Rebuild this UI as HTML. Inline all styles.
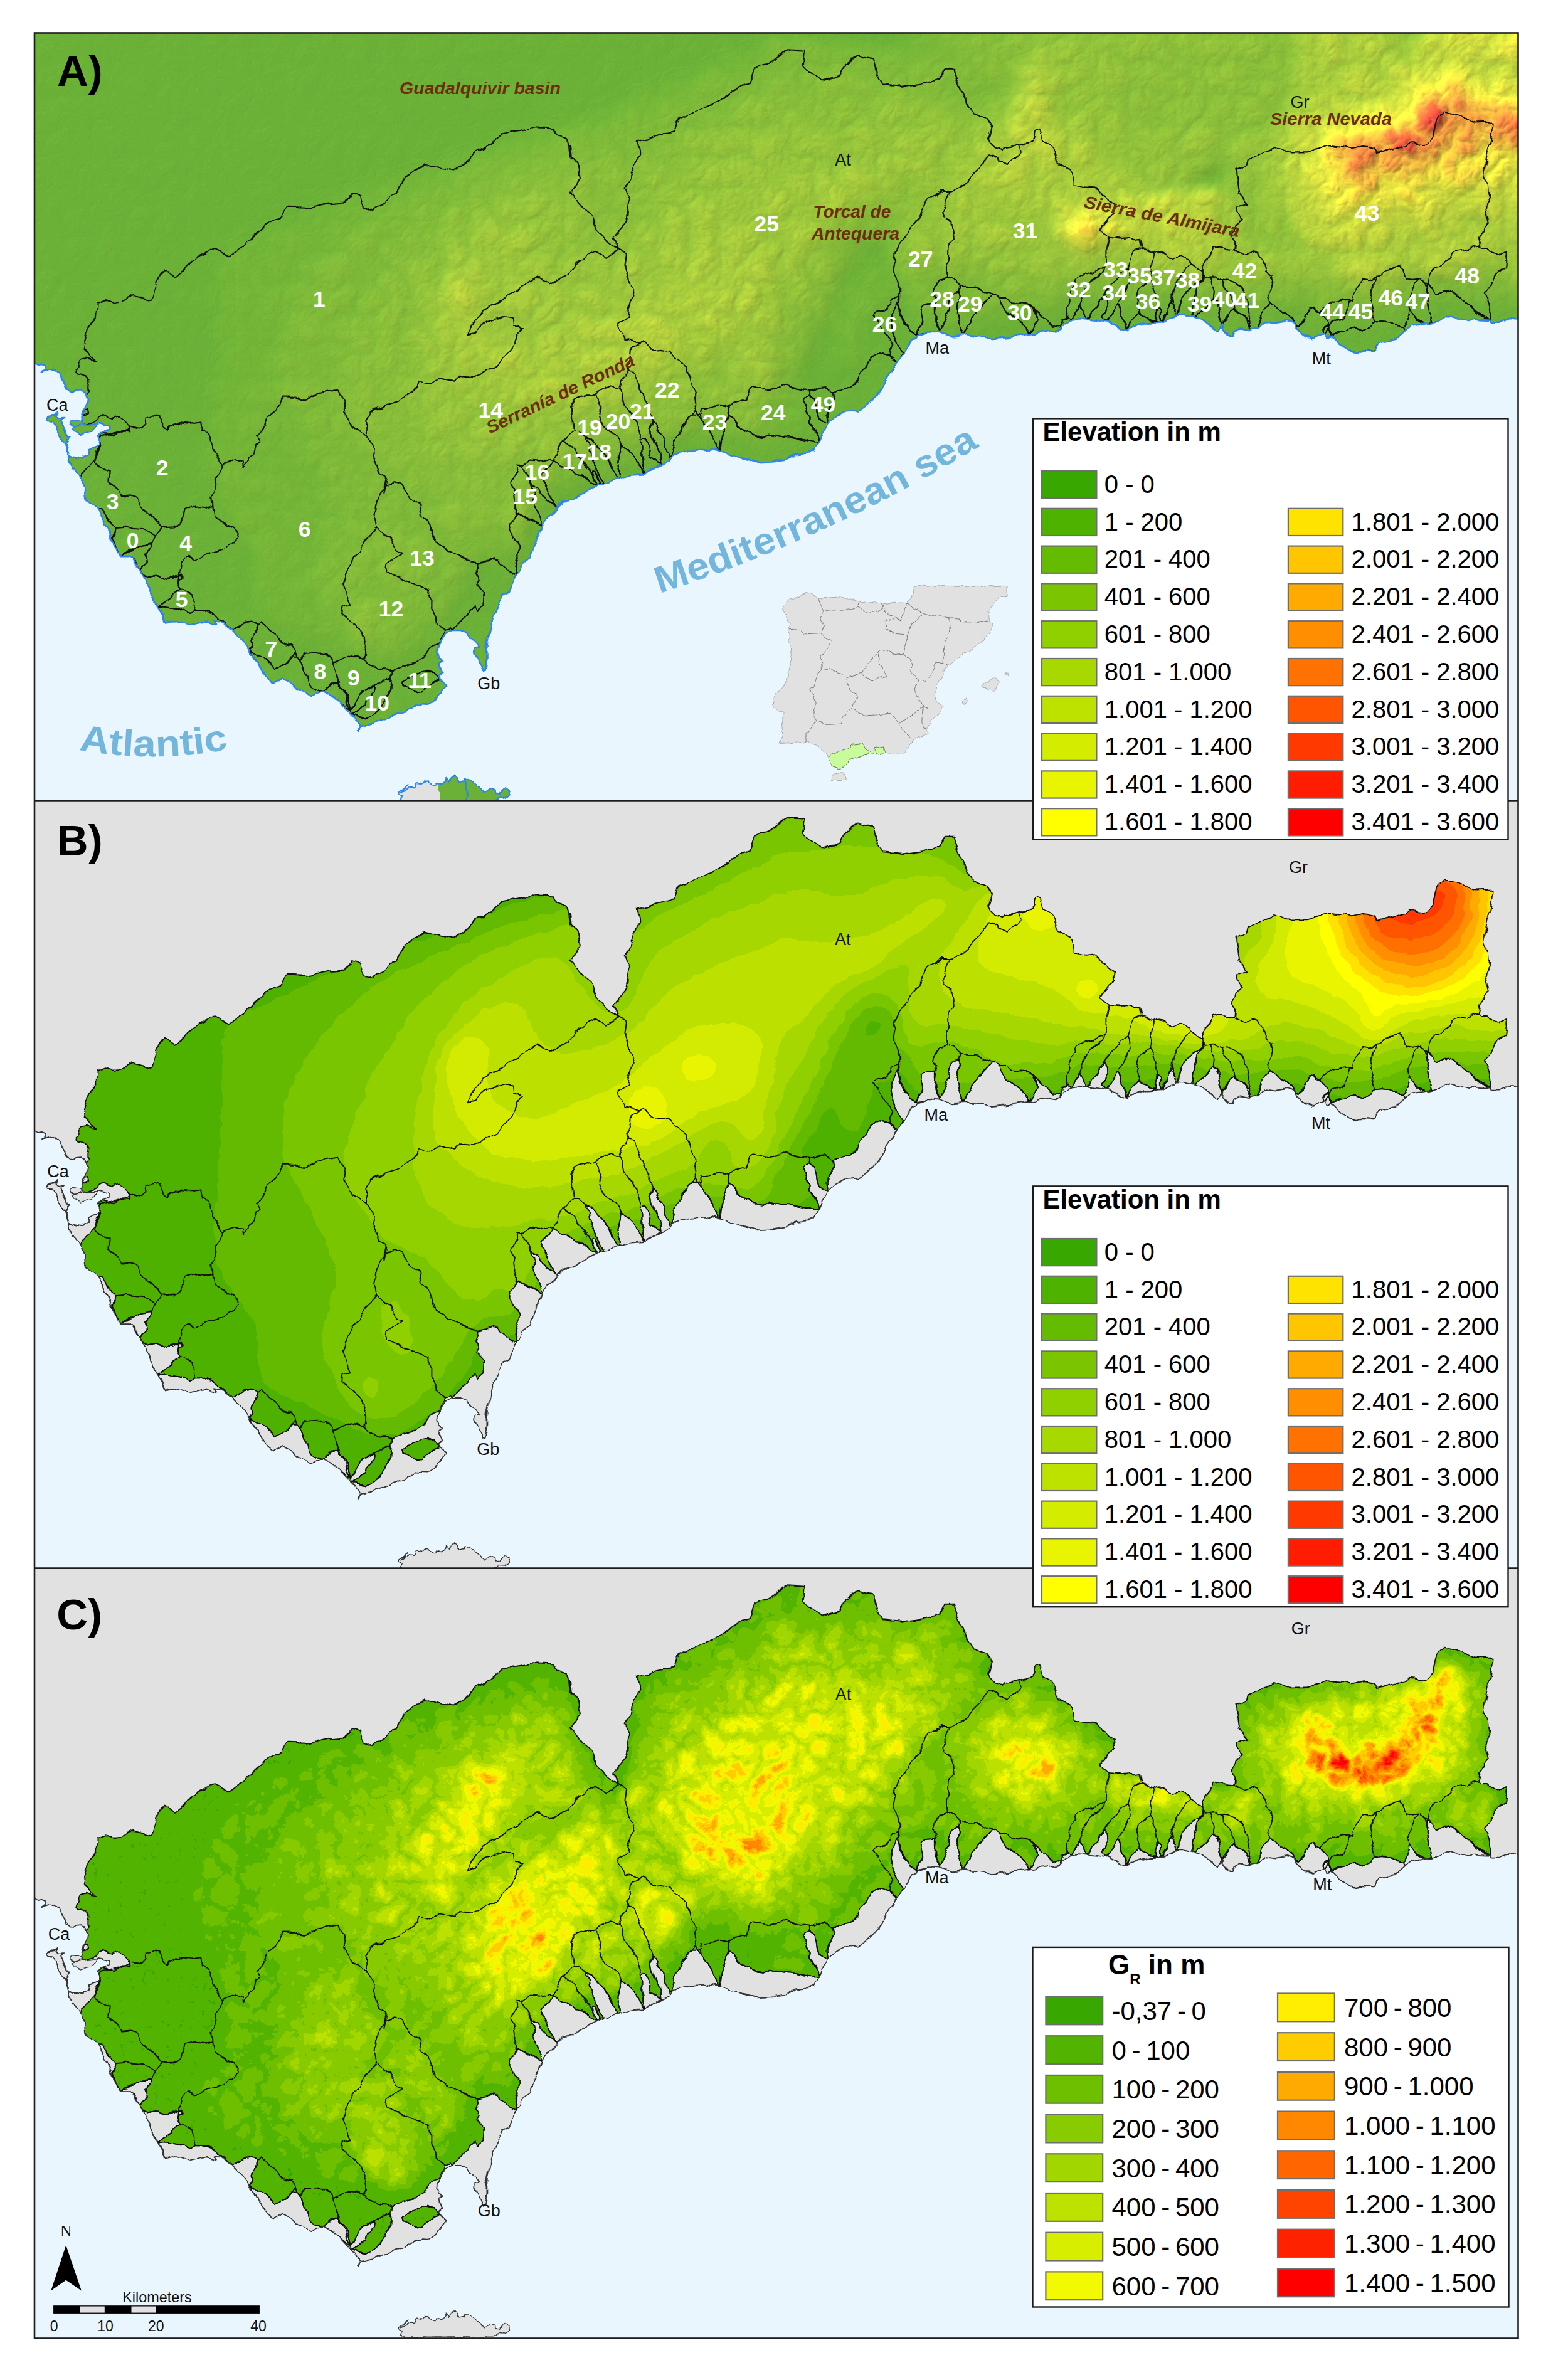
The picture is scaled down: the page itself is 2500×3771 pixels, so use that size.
<!DOCTYPE html>
<html><head><meta charset="utf-8"><title>Elevation maps</title>
<style>
html,body{margin:0;padding:0;background:#fff;}
svg{display:block;}
text{font-family:"Liberation Sans",sans-serif;}
.bl{fill:none;stroke:#111;stroke-width:1.9;stroke-linejoin:round;stroke-linecap:round;}
.num{font-weight:bold;font-size:35.5px;fill:#fff;text-anchor:middle;}
.city{font-size:27px;fill:#111;}
.brn{font-weight:bold;font-style:italic;font-size:28px;fill:#6b2d0c;}
.leg{font-size:40px;fill:#000;}
.sea{font-weight:bold;fill:#74b6db;}
.legt{font-size:42px;font-weight:bold;fill:#000;}
.pl{font-size:69px;font-weight:bold;fill:#000;}
</style></head><body>
<svg width="2500" height="3771" viewBox="0 0 2500 3771">
<defs>
<clipPath id="cpPanel"><rect x="55.0" y="0" width="2365.5" height="1228.0"/></clipPath>
<clipPath id="cpOuter"><path d="M136.7,576.8 138.0,574.9 141.8,571.1 139.3,567.3 139.3,559.6 140.6,552.6 136.7,548.1 129.1,545.0 123.3,544.3 120.2,541.1 121.4,536.7 126.5,531.6 127.8,525.2 131.6,522.0 139.3,520.1 148.2,523.9 151.4,522.6 146.9,520.7 141.8,513.7 136.7,508.6 131.6,503.5 133.7,498.6 140.3,468.0 153.1,455.2 154.6,429.7 168.4,424.6 181.1,428.2 193.9,427.2 214.3,419.5 242.3,426.2 250.0,396.6 264.3,378.7 275.5,387.4 295.9,376.2 306.1,361.9 341.8,345.5 364.8,356.8 390.3,340.4 403.1,325.1 428.6,302.2 449.0,294.5 459.2,278.2 489.8,279.2 525.5,271.6 551.0,270.0 560.2,256.3 574.0,261.4 579.1,276.7 594.4,283.3 612.2,271.6 619.9,258.8 632.7,256.3 642.9,233.3 676.0,207.8 704.1,215.4 724.5,219.0 750.0,197.6 775.5,182.3 800.0,160.8 825.5,155.7 848.5,151.7 881.6,152.7 889.3,164.4 907.1,169.5 909.7,197.6 922.4,212.9 925.0,230.7 909.7,253.7 925.0,271.6 940.3,289.4 950.5,314.9 968.4,332.8 986.2,346.6 976.0,325.1 999.0,299.6 1004.1,263.9 996.4,248.6 1009.2,223.1 1019.4,195.0 1016.8,172.1 1042.3,164.4 1075.5,157.8 1083.2,136.4 1113.8,123.6 1146.9,109.8 1167.3,90.4 1195.4,80.2 1203.1,54.7 1223.5,49.6 1256.6,26.7 1282.1,28.2 1279.6,54.7 1310.2,75.1 1340.8,67.5 1348.5,49.6 1366.3,36.9 1391.8,42.0 1399.5,70.0 1407.1,82.8 1437.8,85.3 1473.5,80.2 1499.0,75.1 1506.6,57.3 1519.4,57.3 1527.0,80.2 1534.7,100.6 1552.6,128.7 1563.3,134.1 1573.5,136.7 1581.1,149.4 1576.0,167.3 1578.6,174.9 1588.8,185.1 1599.0,187.7 1601.5,182.6 1619.4,178.8 1624.5,177.5 1642.3,173.7 1648.7,167.3 1650.0,157.1 1655.1,154.5 1660.2,158.3 1662.8,171.1 1674.2,177.5 1680.6,185.1 1683.2,196.6 1685.7,208.1 1695.9,213.2 1706.1,218.3 1712.5,231.1 1712.5,242.5 1731.6,246.4 1741.8,245.1 1749.5,248.9 1754.6,256.6 1762.2,259.1 1767.3,266.8 1775.0,273.1 1776.3,287.2 1768.6,292.3 1762.2,302.5 1752.0,315.2 1769.9,325.4 1786.1,326.9 1798.9,325.6 1809.1,330.7 1819.3,329.4 1821.8,342.2 1841.0,349.3 1849.9,352.4 1860.1,358.8 1870.3,360.0 1880.0,357.5 1883.6,356.2 1893.8,360.0 1901.4,370.2 1915.5,380.4 1918.0,372.8 1926.9,362.6 1932.0,349.8 1934.6,343.4 1943.5,340.9 1955.0,343.4 1969.0,344.7 1970.3,334.5 1965.2,326.9 1971.6,309.0 1976.7,296.3 1972.9,283.5 1974.0,276.7 1986.7,271.6 1976.5,258.8 1971.4,218.0 1989.3,210.3 1991.8,200.1 2017.3,187.4 2030.1,182.3 2053.1,189.9 2083.7,189.9 2119.4,179.7 2155.1,184.8 2175.5,179.7 2190.8,182.3 2195.9,192.5 2226.5,184.8 2246.9,177.2 2269.9,179.7 2285.2,161.9 2290.3,138.9 2303.1,125.1 2323.5,128.7 2349.0,144.0 2379.6,143.0 2377.0,172.1 2369.4,207.8 2366.6,221.4 2370.4,236.7 2371.7,254.5 2375.5,269.8 2374.2,280.0 2369.1,287.7 2371.7,300.4 2365.3,313.2 2360.2,325.9 2356.4,340.0 2360.2,342.5 2373.0,342.5 2380.6,347.6 2388.3,355.3 2402.3,347.6 2401.0,356.6 2402.3,364.2 2401.0,374.4 2388.3,382.1 2383.2,392.3 2375.5,405.0 2367.9,415.2 2373.0,433.1 2375.5,445.8 2374.2,457.3 2376.0,1235.0 50.0,1235.0 50.0,580.0 131.6,580.0Z"/><path d="M641.2,1034.1 650.1,1026.5 661.6,1023.9 673.1,1017.5 683.3,1016.3 690.9,1020.1 696.0,1029.0 697.3,1032.8 685.8,1036.7 678.2,1044.3 673.1,1050.7 665.4,1050.7 655.2,1044.3 642.4,1040.5Z"/></clipPath>
<path id="sea" d="M48.7,527.1 55.1,527.1 59.6,529.6 66.6,528.4 73.0,530.9 73.0,536.0 67.9,539.2 81.9,534.8 88.3,537.9 94.0,544.3 99.1,552.0 102.9,559.6 106.8,567.3 111.2,571.1 116.3,571.1 121.4,567.3 129.1,566.6 133.5,569.8 136.7,577.5 138.0,585.1 136.7,592.8 134.2,600.4 131.6,608.1 129.7,615.7 129.1,620.2 132.9,624.7 155.9,622.1 173.1,625.9 173.1,633.6 161.0,641.3 155.9,643.2 159.7,647.6 158.4,655.9 154.6,657.8 143.1,662.9 141.8,670.6 131.6,674.4 130.4,677.6 116.3,675.1 109.9,671.9 103.6,655.9 106.1,652.7 108.0,647.6 111.2,643.8 108.7,643.8 106.8,637.4 102.3,631.1 98.5,622.1 97.2,617.0 101.0,612.6 93.4,613.2 89.5,609.4 92.1,604.3 87.0,607.5 77.4,608.7 74.9,611.9 75.5,616.4 83.2,617.0 92.1,633.6 102.3,655.3 109.9,673.1 111.2,682.1 115.1,694.8 116.3,692.3 121.4,697.4 126.5,703.5 134.2,725.4 136.7,742.0 157.1,758.6 164.8,773.9 172.4,791.8 180.1,809.6 185.2,824.9 190.3,832.6 203.1,832.6 210.2,836.0 224.2,855.1 230.6,867.9 240.8,893.4 251.0,916.4 263.8,938.0 274.0,935.5 304.6,944.4 327.6,938.0 342.9,941.9 341.6,936.8 350.5,938.0 368.4,952.1 383.7,967.4 396.4,982.7 411.7,1008.2 424.5,1026.1 437.2,1037.5 448.7,1028.6 457.7,1033.7 475.5,1046.5 498.5,1056.7 515.1,1050.3 531.6,1059.2 544.4,1069.4 557.1,1083.4 567.3,1093.7 573.7,1105.1 571.2,1112.8 572.3,1113.2 573.6,1105.5 596.5,1101.7 619.5,1092.8 642.4,1082.6 660.3,1069.8 683.3,1071.1 698.6,1059.6 708.8,1045.6 710.1,1040.5 698.6,1032.8 697.3,1027.7 706.2,1018.8 698.6,1006.1 706.2,1002.2 699.8,998.4 697.3,988.2 698.6,975.4 703.7,965.2 710.1,957.6 721.5,952.5 734.3,952.5 744.5,956.3 747.0,964.0 757.2,967.8 766.2,976.7 758.5,980.5 757.2,988.2 761.1,998.4 768.7,1017.5 772.6,1016.3 776.4,998.4 776.4,978.0 778.9,962.7 785.3,932.1 794.2,909.1 801.9,897.6 809.5,892.5 818.5,873.4 829.9,851.7 846.5,835.1 851.6,817.3 861.8,796.9 864.9,785.4 874.2,772.6 888.2,756.0 899.7,747.1 912.4,744.5 927.8,734.3 950.7,725.4 960.9,719.0 973.7,713.9 989.0,711.4 1006.8,705.0 1027.2,703.7 1042.6,693.5 1052.8,687.1 1068.1,682.0 1071.9,675.6 1083.4,669.3 1101.2,665.4 1126.7,664.2 1147.1,668.0 1175.9,676.0 1209.1,684.9 1232.0,683.7 1255.0,681.1 1269.0,669.6 1297.1,667.1 1306.0,651.8 1318.8,623.7 1331.5,612.2 1351.9,603.3 1369.8,602.0 1390.2,588.0 1400.4,575.2 1413.2,552.3 1428.5,529.3 1436.1,520.4 1446.3,501.3 1454.0,488.5 1461.6,485.9 1464.2,480.8 1479.5,475.7 1497.3,477.0 1518.3,483.8 1534.8,482.5 1556.5,483.8 1582.0,487.6 1612.7,485.0 1643.3,481.2 1668.8,477.4 1689.2,473.6 1696.8,464.6 1707.0,457.0 1717.2,455.7 1730.0,457.0 1747.9,458.2 1765.7,460.8 1778.5,465.9 1797.6,473.6 1811.6,468.4 1829.5,462.1 1849.9,460.8 1853.0,460.8 1868.3,451.9 1886.1,450.6 1904.0,454.4 1916.7,458.2 1926.9,464.6 1939.7,473.6 1948.6,464.6 1955.0,472.3 1960.1,482.5 1963.9,482.5 1967.8,473.6 1978.0,471.0 1995.8,473.6 2006.0,469.7 2016.2,459.5 2034.1,462.1 2054.5,459.5 2063.4,464.6 2074.9,478.7 2091.5,487.6 2106.8,481.2 2111.9,478.7 2114.4,485.0 2120.8,481.2 2131.0,491.4 2142.5,501.6 2156.5,508.0 2171.8,506.7 2189.7,508.0 2202.0,494.3 2230.1,486.7 2240.3,477.7 2250.5,467.5 2273.5,463.7 2293.9,458.6 2313.0,452.2 2329.6,456.1 2342.3,459.9 2351.3,456.1 2374.2,457.3 2376.8,461.2 2390.8,461.2 2401.0,456.6 2429.1,456.6 2440.0,1240.0 40.0,1240.0Z"/>
<path id="outerline" d="M136.7,576.8 138.0,574.9 141.8,571.1 139.3,567.3 139.3,559.6 140.6,552.6 136.7,548.1 129.1,545.0 123.3,544.3 120.2,541.1 121.4,536.7 126.5,531.6 127.8,525.2 131.6,522.0 139.3,520.1 148.2,523.9 151.4,522.6 146.9,520.7 141.8,513.7 136.7,508.6 131.6,503.5 133.7,498.6 140.3,468.0 153.1,455.2 154.6,429.7 168.4,424.6 181.1,428.2 193.9,427.2 214.3,419.5 242.3,426.2 250.0,396.6 264.3,378.7 275.5,387.4 295.9,376.2 306.1,361.9 341.8,345.5 364.8,356.8 390.3,340.4 403.1,325.1 428.6,302.2 449.0,294.5 459.2,278.2 489.8,279.2 525.5,271.6 551.0,270.0 560.2,256.3 574.0,261.4 579.1,276.7 594.4,283.3 612.2,271.6 619.9,258.8 632.7,256.3 642.9,233.3 676.0,207.8 704.1,215.4 724.5,219.0 750.0,197.6 775.5,182.3 800.0,160.8 825.5,155.7 848.5,151.7 881.6,152.7 889.3,164.4 907.1,169.5 909.7,197.6 922.4,212.9 925.0,230.7 909.7,253.7 925.0,271.6 940.3,289.4 950.5,314.9 968.4,332.8 986.2,346.6 976.0,325.1 999.0,299.6 1004.1,263.9 996.4,248.6 1009.2,223.1 1019.4,195.0 1016.8,172.1 1042.3,164.4 1075.5,157.8 1083.2,136.4 1113.8,123.6 1146.9,109.8 1167.3,90.4 1195.4,80.2 1203.1,54.7 1223.5,49.6 1256.6,26.7 1282.1,28.2 1279.6,54.7 1310.2,75.1 1340.8,67.5 1348.5,49.6 1366.3,36.9 1391.8,42.0 1399.5,70.0 1407.1,82.8 1437.8,85.3 1473.5,80.2 1499.0,75.1 1506.6,57.3 1519.4,57.3 1527.0,80.2 1534.7,100.6 1552.6,128.7 1563.3,134.1 1573.5,136.7 1581.1,149.4 1576.0,167.3 1578.6,174.9 1588.8,185.1 1599.0,187.7 1601.5,182.6 1619.4,178.8 1624.5,177.5 1642.3,173.7 1648.7,167.3 1650.0,157.1 1655.1,154.5 1660.2,158.3 1662.8,171.1 1674.2,177.5 1680.6,185.1 1683.2,196.6 1685.7,208.1 1695.9,213.2 1706.1,218.3 1712.5,231.1 1712.5,242.5 1731.6,246.4 1741.8,245.1 1749.5,248.9 1754.6,256.6 1762.2,259.1 1767.3,266.8 1775.0,273.1 1776.3,287.2 1768.6,292.3 1762.2,302.5 1752.0,315.2 1769.9,325.4 1786.1,326.9 1798.9,325.6 1809.1,330.7 1819.3,329.4 1821.8,342.2 1841.0,349.3 1849.9,352.4 1860.1,358.8 1870.3,360.0 1880.0,357.5 1883.6,356.2 1893.8,360.0 1901.4,370.2 1915.5,380.4 1918.0,372.8 1926.9,362.6 1932.0,349.8 1934.6,343.4 1943.5,340.9 1955.0,343.4 1969.0,344.7 1970.3,334.5 1965.2,326.9 1971.6,309.0 1976.7,296.3 1972.9,283.5 1974.0,276.7 1986.7,271.6 1976.5,258.8 1971.4,218.0 1989.3,210.3 1991.8,200.1 2017.3,187.4 2030.1,182.3 2053.1,189.9 2083.7,189.9 2119.4,179.7 2155.1,184.8 2175.5,179.7 2190.8,182.3 2195.9,192.5 2226.5,184.8 2246.9,177.2 2269.9,179.7 2285.2,161.9 2290.3,138.9 2303.1,125.1 2323.5,128.7 2349.0,144.0 2379.6,143.0 2377.0,172.1 2369.4,207.8 2366.6,221.4 2370.4,236.7 2371.7,254.5 2375.5,269.8 2374.2,280.0 2369.1,287.7 2371.7,300.4 2365.3,313.2 2360.2,325.9 2356.4,340.0 2360.2,342.5 2373.0,342.5 2380.6,347.6 2388.3,355.3 2402.3,347.6 2401.0,356.6 2402.3,364.2 2401.0,374.4 2388.3,382.1 2383.2,392.3 2375.5,405.0 2367.9,415.2 2373.0,433.1 2375.5,445.8 2374.2,457.3"/>
<path id="gaps" d="M74.9,611.9 77.4,608.7 87.0,607.5 92.1,604.3 89.5,609.4 93.4,613.2 101.0,612.6 97.2,617.0 98.5,622.1 102.3,631.1 106.8,637.4 108.7,643.8 111.2,643.8 108.0,647.6 106.1,652.7 103.6,655.9 109.9,671.9 116.3,675.1 130.4,677.6 131.6,674.4 141.8,670.6 143.1,662.9 154.6,657.8 158.4,655.9 152.0,673.1 148.2,682.1 141.8,692.3 132.9,699.9 129.1,707.6 124.0,705.0 121.4,697.4 116.3,692.3 115.1,694.8 111.2,682.1 109.9,673.1 102.3,655.3 92.1,633.6 83.2,617.0 75.5,616.4Z M126.5,627.9 131.6,624.7 139.3,623.4 146.9,620.2 155.9,616.4 157.1,611.9 162.2,609.4 171.2,611.9 180.1,615.7 185.2,613.2 190.3,611.9 196.7,617.0 206.9,624.0 205.6,631.1 206.2,634.9 194.1,633.6 187.8,637.4 181.4,641.9 171.2,640.6 166.1,638.7 161.0,641.9 155.9,643.2 152.0,631.1 139.3,631.1 129.1,629.8Z M134.2,601.7 139.3,600.4 141.2,605.5 134.2,608.7 131.6,608.3Z M157.1,758.6 163.5,758.6 175.0,779.0 182.7,790.5 180.1,804.5 185.2,819.8 189.0,832.6 185.2,825.4 180.1,809.6 172.4,791.8 164.8,773.9Z M189.0,832.6 195.4,828.8 213.3,824.9 226.0,816.0 242.6,814.7 237.5,822.4 231.1,832.6 234.9,844.1 226.0,856.8 213.3,838.2 203.1,833.1 190.3,833.1Z M225.5,856.4 228.1,861.5 238.3,867.9 247.2,865.3 263.8,870.4 276.5,870.4 284.2,866.6 289.3,865.3 290.6,869.2 285.5,871.7 284.2,880.6 288.0,885.7 274.0,898.5 251.0,915.1 240.8,893.9 230.6,868.4 224.2,855.6Z M251.0,915.8 268.9,916.4 286.7,918.9 295.7,925.3 302.0,926.6 307.1,918.9 317.3,918.9 342.9,926.6 353.1,938.0 368.4,952.1 350.5,938.8 341.6,937.3 342.9,942.4 327.6,938.6 304.6,944.9 274.0,936.0 263.8,938.6Z M368.4,952.1 373.5,947.0 388.8,940.6 401.5,939.3 410.5,941.9 406.6,957.2 401.5,968.7 402.8,977.6 396.4,983.2 383.7,967.9Z M397.7,982.7 411.7,991.6 423.2,996.7 430.9,1004.4 439.8,1012.0 451.3,1008.2 460.2,1001.8 466.6,994.2 474.2,994.2 478.1,999.3 484.4,1013.3 489.5,1028.6 492.1,1038.8 503.6,1046.5 514.3,1050.8 498.5,1057.2 475.5,1047.0 457.7,1034.2 448.7,1029.1 437.2,1038.0 424.5,1026.6 411.7,1008.7Z M515.1,1050.3 521.4,1046.5 529.1,1038.8 540.6,1033.7 543.1,1043.9 552.0,1054.1 557.1,1072.0 559.2,1078.9 544.4,1069.9 531.6,1059.7Z M558.3,1078.8 564.6,1072.4 571.0,1057.1 578.7,1049.4 586.3,1045.6 596.5,1041.8 597.8,1044.3 596.5,1050.7 591.4,1054.5 588.9,1059.6 583.8,1063.4 582.5,1069.8 571.0,1080.0 563.4,1086.4 562.1,1088.2Z M822.3,863.2 821.0,850.4 829.9,822.4 819.7,810.9 815.9,803.2 813.4,791.8 819.7,775.2 822.3,765.0 836.3,771.9 851.6,779.5 865.4,785.9 862.3,797.4 852.1,817.8 847.0,835.6 830.5,852.2Z M844.1,710.1 849.9,729.2 852.5,747.1 856.3,762.4 864.0,785.3 874.7,773.1 888.7,756.5 871.6,747.1 864.0,736.9 856.3,726.7 848.7,719.0Z M880.6,682.0 892.0,687.1 902.2,693.5 915.0,703.7 929.0,705.0 935.4,711.4 941.8,719.0 952.0,724.1 951.2,725.9 928.3,734.8 913.0,745.0 900.2,747.6 888.7,756.5 878.0,742.0 870.4,726.7 864.0,711.4 865.3,703.7 871.6,694.8Z M945.6,701.2 949.4,699.9 953.3,710.1 956.3,722.1 952.5,724.6 949.4,716.5Z M932.9,643.8 940.5,647.6 953.3,660.3 963.5,670.5 968.6,678.2 973.7,685.8 977.5,696.1 982.6,706.3 988.2,711.9 974.2,714.4 961.4,719.5 955.8,706.3 950.7,694.8 943.1,680.7 938.0,668.0 936.7,655.2Z M991.5,655.2 1001.7,665.4 1014.5,678.2 1022.1,694.8 1027.2,704.2 1007.3,705.5 990.8,710.6 989.0,698.6 985.2,685.8 987.7,673.1 990.3,660.3Z M1023.4,660.3 1022.1,651.4 1026.0,647.6 1031.1,647.6 1034.9,655.2 1037.4,665.4 1034.9,675.6 1045.1,680.7 1052.0,686.4 1043.1,694.0 1027.8,704.2 1026.0,688.4 1023.4,673.1Z M1042.6,617.0 1045.1,622.1 1050.2,634.8 1057.9,647.6 1060.4,660.3 1066.8,675.6 1068.6,682.5 1053.3,687.6 1051.5,685.8 1050.2,670.5 1045.1,657.8 1041.3,645.0 1038.7,632.3 1041.3,627.2Z M1071.9,675.6 1075.7,660.3 1080.8,645.0 1085.9,632.3 1092.3,619.5 1102.5,609.3 1112.7,609.3 1119.1,617.0 1126.7,627.2 1133.1,637.4 1139.5,652.7 1145.1,667.2 1126.7,664.7 1101.2,665.9 1083.4,669.8Z M1163.2,608.4 1170.8,616.1 1175.9,623.7 1181.0,631.4 1196.3,637.7 1206.5,644.1 1216.7,645.4 1226.9,640.3 1249.9,644.1 1262.7,645.4 1278.0,647.9 1295.8,651.8 1306.0,651.8 1297.6,667.6 1269.5,670.1 1255.5,681.6 1232.0,684.2 1209.1,685.4 1175.9,676.5 1147.9,668.9 1150.4,649.2 1153.0,633.9 1158.1,618.6Z M1290.7,577.8 1299.6,584.2 1303.5,593.1 1304.7,603.3 1307.3,613.5 1313.7,621.2 1319.3,624.2 1306.5,652.3 1303.5,641.6 1295.8,628.8 1289.4,621.2 1290.7,613.5 1285.6,600.7 1280.5,589.3 1283.1,582.9Z M1329.0,574.0 1336.6,568.9 1354.5,566.3 1367.2,554.8 1372.3,542.1 1380.0,534.4 1385.1,521.7 1390.2,512.7 1400.4,511.5 1414.4,514.0 1420.8,515.3 1425.9,521.7 1431.0,526.8 1436.6,520.9 1429.0,529.8 1413.7,552.8 1400.9,575.7 1390.7,588.5 1370.3,602.5 1352.4,603.8 1332.0,612.7 1319.3,624.2 1317.5,610.9 1318.8,600.7 1326.4,593.1 1330.3,585.4Z M1432.3,420.9 1433.6,429.8 1428.5,440.0 1423.4,450.2 1420.8,463.0 1423.4,475.7 1427.2,488.5 1432.3,498.7 1438.7,511.5 1436.6,520.9 1446.8,501.8 1454.5,489.0 1462.1,486.5 1464.7,481.4 1459.1,479.6 1451.4,475.7 1443.8,465.5 1436.1,452.8 1433.6,440.0Z M1470.7,437.4 1476.5,432.6 1489.8,431.1 1489.8,442.8 1491.1,460.6 1498.2,473.4 1498.2,477.7 1476.5,476.5 1461.2,480.3 1466.3,470.8 1470.2,460.6 1468.9,447.9Z M1518.3,417.4 1528.5,414.9 1531.0,421.3 1528.5,431.5 1525.9,446.8 1527.2,459.5 1531.0,472.3 1534.8,483.0 1518.3,484.3 1497.9,479.2 1497.9,474.8 1500.4,472.3 1505.5,459.5 1511.9,441.7 1514.4,426.4Z M1580.8,417.4 1574.4,426.4 1566.7,434.0 1556.5,446.8 1548.9,459.5 1541.2,472.3 1534.8,483.0 1556.5,484.3 1582.0,488.1 1612.7,485.5 1643.3,481.7 1638.2,472.3 1630.5,462.1 1617.8,453.1 1607.6,446.8 1599.9,439.1 1593.5,428.9 1592.2,422.5Z M1645.8,437.8 1656.0,446.8 1663.7,454.4 1672.6,459.5 1679.0,465.9 1691.7,467.2 1689.7,474.1 1668.8,477.9 1643.3,481.7 1644.5,474.8 1649.6,467.2 1656.0,458.2 1650.9,446.8Z M1691.7,467.2 1693.0,457.0 1700.7,454.4 1705.8,457.0 1697.3,465.1 1689.7,474.1Z M1722.3,435.3 1718.5,442.9 1709.6,449.3 1707.0,457.5 1717.2,456.2 1730.5,457.5 1727.4,449.3 1723.6,441.7Z M1763.2,416.2 1758.1,421.3 1750.4,428.9 1742.8,441.7 1735.1,451.9 1730.0,457.5 1747.9,458.8 1765.7,461.3 1759.3,453.1 1761.9,441.7 1764.4,431.5Z M1784.8,428.9 1779.7,434.0 1775.9,444.2 1769.5,454.4 1765.7,461.3 1778.5,466.4 1797.6,474.1 1795.1,462.1 1789.9,449.3 1787.4,436.6Z M1815.5,446.8 1809.1,454.4 1801.4,462.1 1797.6,474.1 1811.6,469.0 1829.5,462.6 1842.2,458.8 1834.6,457.0 1824.4,451.9Z M1844.8,434.0 1849.9,441.7 1849.9,461.3 1842.8,460.0 1844.0,446.8Z M1868.3,434.0 1874.6,441.7 1877.2,451.1 1868.3,452.4 1853.0,461.3 1855.0,454.4 1860.1,446.8 1863.2,436.6 1867.0,426.4Z M1914.2,390.6 1910.4,398.3 1904.0,403.4 1896.3,408.5 1887.4,413.6 1883.6,426.4 1881.0,436.6 1879.7,449.3 1886.1,451.1 1900.2,453.7 1902.7,436.6 1906.5,421.3 1911.6,403.4 1915.5,390.6Z M1934.6,423.8 1926.9,431.5 1916.7,441.7 1906.5,451.9 1904.0,454.9 1916.7,458.8 1926.9,465.1 1939.7,474.1 1948.6,465.1 1944.8,454.4 1942.2,441.7 1939.7,428.9Z M1966.5,436.6 1960.1,446.8 1953.7,459.5 1948.6,465.1 1955.0,472.8 1960.1,483.0 1963.9,483.0 1967.8,474.1 1978.0,471.5 1995.8,474.1 1993.3,462.1 1985.6,454.4 1975.4,446.8Z M2025.2,432.7 2018.8,439.1 2012.4,449.3 2006.0,462.1 2003.5,472.3 2006.0,470.2 2016.2,460.0 2034.1,462.6 2054.5,460.0 2063.9,465.1 2059.6,457.0 2051.9,449.3 2041.7,444.2 2034.1,439.1Z M2094.0,435.3 2088.9,439.1 2085.1,446.8 2080.0,459.5 2071.1,467.2 2064.7,465.9 2074.9,479.2 2091.5,488.1 2106.8,481.7 2110.6,480.4 2109.3,473.6 2113.2,467.2 2118.3,464.6 2115.7,457.0 2108.1,449.3 2104.2,444.2 2097.9,441.7Z M2121.7,481.1 2135.7,476.5 2148.5,472.6 2161.2,468.8 2174.0,473.9 2184.2,470.1 2193.1,459.9 2204.6,458.6 2214.8,459.9 2225.0,463.7 2232.7,470.1 2237.8,471.4 2240.8,478.2 2230.1,487.2 2202.0,494.8 2189.3,507.6 2171.4,506.3 2154.8,507.6 2142.1,502.5 2130.6,492.3 2120.4,482.1Z M2110.2,473.9 2114.0,467.5 2120.4,466.3 2120.4,471.4 2121.7,481.1 2114.0,485.9 2110.2,480.8Z M2248.0,438.2 2246.7,448.4 2244.1,458.6 2237.8,471.4 2240.8,478.2 2251.0,468.0 2273.5,464.2 2265.8,461.2 2258.2,453.5 2250.5,443.3Z M2276.0,401.2 2283.7,407.6 2288.8,416.5 2296.4,412.7 2304.1,410.1 2314.3,416.5 2321.9,422.9 2332.1,428.0 2342.3,433.1 2352.6,443.3 2360.2,449.7 2370.4,456.1 2374.2,457.8 2351.3,456.6 2342.3,460.4 2329.6,456.6 2313.0,452.7 2293.9,459.1 2281.1,460.4 2278.6,448.4 2276.0,433.1 2274.7,420.3 2276.0,407.6Z"/>
<path id="gibgap" fill-rule="evenodd" d="M624.6,1018.8 629.7,1013.7 647.6,1008.6 662.9,1003.5 675.6,995.8 683.3,986.9 690.9,975.4 698.6,972.4 701.1,965.2 708.8,956.3 708.8,951.2 716.4,949.9 719.0,947.4 721.5,951.2 731.7,942.3 736.8,934.6 747.0,924.4 758.5,912.9 761.1,920.6 771.3,911.7 772.6,898.9 773.8,893.8 764.9,884.9 761.1,879.8 764.9,873.4 758.5,863.2 762.3,851.7 762.3,845.3 775.1,842.8 787.9,837.7 794.2,839.0 796.8,847.9 809.5,858.1 822.3,863.2 819.0,873.9 810.1,893.0 802.4,898.1 794.7,909.6 785.8,932.6 779.4,963.2 776.9,978.5 776.9,998.9 773.1,1016.8 768.7,1018.0 760.6,998.9 756.7,988.7 758.0,980.5 765.7,976.7 756.7,968.3 746.5,964.5 744.0,956.8 734.3,953.0 721.5,953.0 710.6,958.1 704.2,965.7 699.1,975.9 697.8,988.7 700.4,997.9 706.7,1002.2 699.1,1006.1 706.7,1018.8 697.8,1027.7 699.1,1032.3 710.6,1040.5 709.3,1046.1 699.1,1060.1 683.8,1071.6 660.8,1070.3 643.0,1083.1 620.0,1093.3 597.0,1102.2 574.1,1106.1 572.3,1113.7 569.7,1099.7 562.1,1088.2 563.4,1086.4 571.0,1090.2 583.8,1092.8 596.5,1085.1 604.2,1078.8 614.4,1064.7 623.3,1046.9 624.6,1027.7Z M641.2,1034.1 650.1,1026.5 661.6,1023.9 673.1,1017.5 683.3,1016.3 690.9,1020.1 696.0,1029.0 697.3,1032.8 685.8,1036.7 678.2,1044.3 673.1,1050.7 665.4,1050.7 655.2,1044.3 642.4,1040.5Z"/>
<path id="lines" d="M159.7,645.1 172.4,641.3 192.9,634.9 206.9,631.1 205.6,625.9 226.0,629.8 232.4,623.4 233.7,613.2 247.7,609.4 254.1,611.9 261.7,628.5 266.8,633.6 270.7,624.7 280.9,620.8 289.8,622.1 302.6,623.4 320.4,620.8 321.7,633.6 330.6,637.4 337.0,646.4 339.5,664.2 347.2,677.0 353.6,689.7 M353.6,689.7 374.0,679.5 386.7,683.3 388.0,692.3 396.9,679.5 403.3,674.4 407.1,659.1 413.5,654.0 407.1,643.8 417.3,636.2 427.6,610.6 440.3,600.4 450.0,580.0 469.4,580.2 482.1,585.3 505.1,575.1 540.8,569.0 548.5,587.9 551.0,610.8 561.2,626.2 586.7,641.5 M586.7,641.5 584.2,618.5 594.4,600.6 637.8,587.9 663.3,564.9 668.4,554.7 686.2,559.8 704.1,549.6 724.5,557.3 734.7,544.5 760.2,547.1 790.0,530.2 805.3,514.9 815.5,502.2 825.7,483.0 835.9,471.6 828.3,466.5 818.1,467.7 816.8,456.3 809.1,452.4 790.0,456.3 775.5,460.3 755.1,478.2 742.3,480.7 770.4,442.5 800.0,427.2 835.7,401.7 856.1,388.9 876.5,401.7 907.1,386.4 922.4,363.4 950.5,348.1 968.4,358.3 986.2,346.6 M586.7,641.5 596.9,661.9 594.4,677.2 604.6,700.1 617.3,707.8 612.2,733.3 614.8,720.4 602.0,743.4 599.5,753.6 599.1,753.5 596.5,768.8 600.4,786.7 M614.8,720.4 630.1,715.3 642.9,723.0 653.1,740.8 668.4,751.1 670.5,753.5 673.1,771.4 680.7,777.7 685.8,791.8 696.0,812.2 713.9,824.9 731.7,835.1 744.5,841.5 762.3,845.3 762.3,851.7 M600.4,786.7 616.9,799.4 627.1,812.2 631.0,822.4 639.9,828.8 627.1,837.7 618.2,844.1 616.9,858.1 629.7,863.2 647.6,873.4 670.5,878.5 683.3,886.2 688.4,901.5 688.4,919.3 694.7,932.1 696.0,942.3 708.8,951.2 M600.4,786.7 591.4,804.5 574.8,822.4 568.5,830.0 558.3,850.4 550.6,865.7 546.8,878.5 550.6,891.3 553.2,901.5 558.3,912.9 545.5,916.8 544.2,927.0 563.4,941.0 573.6,949.9 579.9,962.7 585.1,976.7 581.2,988.2 580.2,998.4 M532.8,1004.3 545.5,998.4 558.3,992.8 571.0,995.8 580.2,998.4 591.4,1006.1 604.2,1013.7 616.9,1015.0 624.6,1018.8 624.6,1027.7 M532.8,1004.3 536.6,1018.8 539.1,1032.8 543.0,1044.3 550.6,1057.1 553.2,1069.8 558.3,1078.8 564.6,1072.4 571.0,1057.1 578.7,1049.4 586.3,1045.6 596.5,1040.5 609.3,1034.1 624.6,1027.7 M624.6,1027.7 623.3,1046.9 614.4,1064.7 604.2,1078.8 596.5,1085.1 583.8,1092.8 571.0,1090.2 563.4,1086.4 571.0,1080.0 582.5,1069.8 583.8,1063.4 588.9,1059.6 591.4,1054.5 596.5,1050.7 597.8,1044.3 596.5,1040.5 M353.6,689.7 347.2,701.2 340.8,712.7 343.4,728.0 338.3,740.7 339.5,758.6 M339.5,758.6 328.1,754.8 315.3,753.5 297.4,761.2 294.9,771.4 284.7,781.6 277.0,787.9 259.2,789.2 M259.2,789.2 243.9,771.4 228.6,761.2 215.8,739.5 208.2,736.9 194.1,738.2 187.8,725.4 172.4,715.2 173.7,698.7 159.7,692.3 149.5,684.6 159.7,656.6 159.7,645.1 M182.7,790.5 203.1,789.2 228.6,791.8 249.0,802.0 259.2,789.2 M249.0,802.0 242.6,813.4 226.0,816.0 213.3,824.9 195.4,828.8 189.0,832.6 M242.6,813.4 237.5,822.4 231.1,832.6 234.9,844.1 226.0,856.8 225.5,856.4 228.1,861.5 238.3,867.9 247.2,865.3 263.8,870.4 276.5,870.4 284.2,866.6 289.3,865.3 290.6,869.2 285.5,871.7 286.7,857.7 288.0,847.5 298.2,833.4 309.7,841.1 332.7,830.9 355.6,824.5 368.4,815.6 378.6,805.4 379.8,796.5 373.5,788.8 363.3,783.7 342.9,773.5 340.8,768.8 339.5,758.6 M285.5,871.7 284.2,880.6 288.0,885.7 274.0,898.5 251.0,915.1 268.9,916.4 286.7,918.9 295.7,925.3 302.0,926.6 307.1,918.9 309.7,907.4 307.1,895.9 294.4,887.0 288.0,885.7 M307.1,918.9 317.3,918.9 342.9,926.6 353.1,938.0 368.4,952.1 373.5,947.0 388.8,940.6 401.5,939.3 410.5,941.9 416.8,936.8 421.9,943.1 429.6,952.1 441.1,961.0 451.3,972.5 465.3,976.3 471.7,985.2 474.2,994.2 478.1,998.0 488.3,990.3 506.1,989.1 518.9,989.1 527.8,998.0 532.9,1004.4 557.1,992.9 569.9,994.2 580.1,999.3 M410.5,941.9 406.6,957.2 401.5,968.7 402.8,977.6 397.7,981.4 401.5,985.2 411.7,991.6 423.2,996.7 430.9,1004.4 439.8,1012.0 451.3,1008.2 460.2,1001.8 466.6,992.9 471.7,985.2 M478.1,998.0 484.4,1013.3 489.5,1028.6 492.1,1038.8 503.6,1046.5 515.1,1050.3 521.4,1046.5 529.1,1038.8 540.6,1033.7 536.7,1018.4 532.9,1004.4 M540.6,1033.7 543.1,1043.9 552.0,1054.1 557.1,1072.0 559.7,1078.3 M986.2,346.6 999.0,353.2 996.4,371.1 1009.2,411.9 1001.5,442.5 1000.5,453.7 985.2,463.9 986.4,469.0 994.1,476.7 996.6,488.1 1009.4,492.0 1018.3,495.8 1024.7,492.0 M1024.7,492.0 1038.7,504.7 1052.8,503.4 1065.5,506.0 1073.2,514.9 1083.4,525.1 1096.1,531.5 1098.7,545.5 1102.5,563.4 1108.9,576.2 1111.4,588.9 1107.6,601.7 1102.5,609.3 1092.3,619.5 1085.9,632.3 1080.8,645.0 1075.7,660.3 1071.9,674.4 M1107.6,601.7 1112.7,609.3 1117.8,606.8 1119.1,597.8 1134.4,596.6 1147.1,594.0 1162.4,596.6 1172.7,590.2 1191.2,585.4 1196.3,570.1 1200.2,563.8 1226.9,567.6 1242.2,565.0 1247.3,562.5 1272.9,567.6 1289.4,570.1 1303.5,565.0 1313.7,563.8 1321.3,567.6 1329.0,574.0 1336.6,568.9 1354.5,566.3 1367.2,554.8 1372.3,542.1 1380.0,534.4 1385.1,521.7 1390.2,512.7 1400.4,511.5 1414.4,514.0 1420.8,515.3 M1119.1,597.8 1117.8,606.8 1119.1,617.0 1126.7,627.2 1133.1,637.4 1139.5,652.7 1144.6,666.7 1147.1,668.0 1149.7,650.1 1152.2,634.8 1157.3,622.1 1163.7,611.9 1162.4,596.6 M1161.9,595.6 1163.2,608.4 1170.8,616.1 1175.9,623.7 1181.0,631.4 1196.3,637.7 1206.5,644.1 1216.7,645.4 1226.9,640.3 1249.9,644.1 1262.7,645.4 1278.0,647.9 1295.8,651.8 1306.0,651.8 1303.5,641.6 1295.8,628.8 1289.4,621.2 1290.7,613.5 1285.6,600.7 1280.5,589.3 1283.1,582.9 1290.7,577.8 1289.4,570.1 M1290.7,577.8 1299.6,584.2 1303.5,593.1 1304.7,603.3 1307.3,613.5 1313.7,621.2 1318.8,623.7 1317.5,610.9 1318.8,600.7 1326.4,593.1 1330.3,585.4 1329.0,574.0 M1420.8,515.3 1418.3,503.8 1423.4,497.4 1418.3,488.5 1410.6,478.3 1403.0,465.5 1400.4,457.9 1394.0,450.2 1397.9,443.9 1410.6,440.0 1420.8,432.4 1423.4,424.7 1432.3,420.9 1433.6,429.8 1428.5,440.0 1423.4,450.2 1420.8,463.0 1423.4,475.7 1427.2,488.5 1432.3,498.7 1438.7,511.5 1436.1,520.4 1431.0,526.8 1425.9,521.7 1420.8,515.3 M1433.2,419.8 1433.2,404.5 1430.6,391.8 1425.5,379.0 1428.1,363.7 1424.2,350.9 1430.6,338.2 1440.8,328.0 1448.5,315.2 1454.8,305.0 1466.3,292.3 1474.0,277.0 1479.1,265.5 1491.8,259.1 1503.3,251.5 1513.5,251.5 M1513.5,251.5 1519.9,250.2 1530.1,246.4 1542.9,236.2 1550.5,225.9 1560.7,215.7 1568.4,205.5 1576.0,195.3 1583.7,194.1 1591.3,199.2 1593.9,205.5 1604.1,209.4 1614.3,201.7 1621.9,197.9 1627.0,190.2 1624.5,178.8 M1513.5,251.5 1509.7,261.7 1504.6,274.4 1503.3,287.2 1507.1,294.8 1517.3,299.9 1518.6,315.2 1519.9,329.3 1513.5,335.6 1512.2,348.4 1512.2,361.2 1508.4,371.4 1509.7,389.2 M1433.2,419.8 1433.2,435.1 1435.7,447.9 1442.1,460.6 1449.7,473.4 1456.1,478.5 1461.2,479.8 1466.3,470.8 1470.2,460.6 1468.9,447.9 1470.7,437.4 1476.5,432.6 1489.8,431.1 M1508.1,389.4 1495.3,391.9 1491.5,403.4 1488.9,416.2 1491.5,431.5 1488.9,457.0 1497.9,474.8 1500.4,472.3 1505.5,459.5 1511.9,441.7 1514.4,426.4 1518.3,417.4 1528.5,414.9 1531.0,403.4 1520.8,393.2 1508.1,389.4 M1531.0,403.4 1554.0,403.4 1566.7,411.1 1580.8,417.4 1592.2,422.5 1605.0,422.5 1620.3,431.5 1638.2,432.7 1645.8,437.8 1656.0,446.8 1663.7,454.4 1672.6,459.5 1679.0,465.9 1691.7,467.2 1693.0,457.0 1700.7,454.4 1701.9,446.8 1704.5,436.6 1703.2,421.3 1707.0,413.6 1714.7,400.8 1713.4,393.2 1719.8,388.1 1730.0,383.0 1745.3,385.5 1751.7,376.6 1760.6,371.5 1764.4,360.0 1764.4,342.2 1767.0,332.0 1768.3,325.6 M1580.8,417.4 1574.4,426.4 1566.7,434.0 1556.5,446.8 1548.9,459.5 1541.2,472.3 1534.8,482.5 1531.0,472.3 1527.2,459.5 1525.9,446.8 1528.5,431.5 1531.0,421.3 1528.5,414.9 M1645.8,437.8 1650.9,446.8 1656.0,458.2 1649.6,467.2 1644.5,474.8 1643.3,481.2 1638.2,472.3 1630.5,462.1 1617.8,453.1 1607.6,446.8 1599.9,439.1 1593.5,428.9 1592.2,422.5 M1760.6,371.5 1758.1,383.0 1750.4,390.6 1740.2,395.7 1733.8,403.4 1731.3,413.6 1726.2,426.4 1722.3,436.6 1718.5,442.9 1709.6,449.3 1705.8,457.0 1700.7,454.4 M1722.3,436.6 1723.6,441.7 1727.4,449.3 1730.0,457.0 1735.1,451.9 1742.8,441.7 1750.4,428.9 1758.1,421.3 1763.2,416.2 1768.3,405.9 1778.5,393.2 1788.7,383.0 1798.9,375.3 1801.4,365.1 1806.5,352.4 1811.6,347.3 1823.1,343.4 M1763.2,416.2 1764.4,431.5 1761.9,441.7 1759.3,453.1 1765.7,460.8 1769.5,454.4 1775.9,444.2 1779.7,434.0 1784.8,428.9 1791.2,418.7 1796.3,408.5 1800.2,398.3 1802.7,388.1 1798.9,375.3 M1784.8,428.9 1787.4,436.6 1789.9,449.3 1795.1,462.1 1797.6,473.6 1801.4,462.1 1809.1,454.4 1815.5,446.8 1811.6,434.0 1814.2,421.3 1816.7,408.5 1826.9,398.3 1833.3,394.5 1834.6,377.9 1837.1,362.6 1841.0,349.8 M1815.5,446.8 1824.4,451.9 1834.6,457.0 1842.2,458.2 1843.5,446.8 1844.8,434.0 1842.2,421.3 1839.7,408.5 1837.1,400.8 1833.3,394.5 M1844.8,434.0 1849.9,441.7 1849.9,460.8 1855.0,454.4 1860.1,446.8 1863.2,436.6 1867.0,426.4 1867.8,416.2 1873.4,405.9 1879.7,393.2 1884.8,383.0 1891.2,375.3 1900.2,370.2 M1867.0,426.4 1868.3,434.0 1874.6,441.7 1877.2,450.6 1879.7,449.3 1881.0,436.6 1883.6,426.4 1887.4,413.6 1896.3,408.5 1904.0,403.4 1910.4,398.3 1914.2,390.6 1915.5,380.4 M1915.5,380.4 1915.5,390.6 1911.6,403.4 1906.5,421.3 1902.7,436.6 1900.2,453.1 1904.0,454.4 1906.5,451.9 1916.7,441.7 1926.9,431.5 1934.6,423.8 1935.9,413.6 1932.0,400.8 1926.9,388.1 1918.0,389.4 1915.5,380.4 M1926.9,388.1 1937.1,388.1 1947.3,391.9 1952.4,403.4 1960.1,413.6 1965.2,426.4 1966.5,436.6 1960.1,446.8 1953.7,459.5 1948.6,464.6 1944.8,454.4 1942.2,441.7 1939.7,428.9 1934.6,423.8 M1947.3,391.9 1957.6,393.2 1967.8,398.3 1980.5,405.9 1985.6,416.2 1986.9,431.5 1989.4,446.8 1993.3,462.1 1995.8,473.6 1985.6,454.4 1975.4,446.8 1966.5,436.6 M1969.0,344.7 1983.1,352.4 1995.8,347.3 2006.0,351.1 2009.8,360.0 2016.2,370.2 2018.8,380.4 2027.7,388.1 2029.0,397.0 2023.9,411.1 2021.3,421.3 2025.2,432.7 2018.8,439.1 2012.4,449.3 2006.0,462.1 2003.5,472.3 M2025.2,432.7 2034.1,439.1 2041.7,444.2 2051.9,449.3 2059.6,457.0 2064.7,465.9 2071.1,467.2 2080.0,459.5 2085.1,446.8 2088.9,439.1 2094.0,435.3 2097.9,441.7 2104.2,444.2 2113.2,436.6 2123.4,430.2 2136.1,426.4 2148.9,425.1 2156.5,427.6 2162.5,407.6 2168.9,397.4 2174.0,392.3 2184.2,394.8 2194.4,388.4 2202.0,387.2 2204.6,379.5 2217.3,377.0 2231.4,370.6 2237.8,379.5 2241.6,391.0 2253.1,392.3 2263.3,391.0 2270.9,397.4 2277.3,401.2 2278.6,392.3 2282.4,382.1 2287.5,371.9 2296.4,369.3 2304.1,364.2 2311.7,359.1 2316.8,351.5 2324.5,347.6 2339.8,345.1 2348.7,341.3 2356.4,340.0 M2103.8,444.6 2110.2,450.9 2116.6,458.6 2119.1,466.3 2119.1,471.4 2112.8,479.0 2108.9,480.3 2110.2,473.9 2114.0,467.5 2120.4,466.3 2124.2,459.9 2130.6,457.3 2142.1,452.2 2145.9,445.8 2151.0,439.5 2149.7,428.0 2157.4,425.4 M2120.4,466.3 2120.4,471.4 2121.7,481.1 2135.7,476.5 2148.5,472.6 2161.2,468.8 2174.0,473.9 2184.2,470.1 2193.1,459.9 2190.6,448.4 2188.0,433.1 2185.5,420.3 2188.0,402.5 2194.4,388.4 M2193.1,459.9 2204.6,458.6 2214.8,459.9 2225.0,463.7 2232.7,470.1 2237.8,471.4 2244.1,458.6 2246.7,448.4 2248.0,438.2 2246.7,428.0 2250.5,412.7 2255.6,402.5 2263.3,391.0 M2248.0,438.2 2250.5,443.3 2258.2,453.5 2265.8,461.2 2273.5,465.0 2281.1,459.9 2278.6,448.4 2276.0,433.1 2274.7,420.3 2276.0,407.6 2270.9,397.4 M2277.3,401.2 2283.7,407.6 2288.8,416.5 2296.4,412.7 2304.1,410.1 2314.3,416.5 2321.9,422.9 2332.1,428.0 2342.3,433.1 2352.6,443.3 2360.2,449.7 2370.4,456.1 2374.2,457.3 M1018.3,495.8 1006.8,500.9 1004.3,517.5 999.2,530.2 1001.7,539.2 991.5,553.2 987.7,568.5 973.7,564.7 963.5,569.8 948.2,573.6 932.9,578.7 917.6,583.8 911.2,596.6 912.4,617.0 913.7,634.8 902.2,645.0 898.4,650.1 893.3,661.6 886.9,670.5 880.6,682.0 871.6,678.2 858.9,683.3 843.6,682.0 833.4,688.4 824.4,688.4 820.6,706.3 814.2,717.7 819.3,726.7 821.9,744.5 820.6,764.9 M833.4,688.4 835.9,698.6 844.1,710.1 849.9,729.2 852.5,747.1 856.3,762.4 864.0,785.3 851.2,780.2 835.9,772.6 821.9,764.4 M844.1,710.1 848.7,719.0 856.3,726.7 864.0,736.9 871.6,747.1 888.2,756.0 878.0,742.0 870.4,726.7 864.0,711.4 865.3,703.7 871.6,694.8 880.6,682.0 M880.6,682.0 892.0,687.1 902.2,693.5 915.0,703.7 929.0,705.0 935.4,711.4 941.8,719.0 952.0,724.1 949.4,716.5 945.6,706.3 940.5,696.1 932.9,688.4 925.2,678.2 917.6,665.4 909.9,655.2 898.4,650.1 M913.7,634.8 922.7,634.3 932.9,643.8 936.7,655.2 938.0,668.0 943.1,680.7 950.7,694.8 955.8,706.3 960.9,719.0 957.1,721.6 953.3,708.8 949.4,699.9 945.6,701.2 M948.2,573.6 954.5,586.4 958.4,596.6 953.3,606.8 955.8,617.0 968.6,629.7 981.3,639.9 987.7,647.6 990.3,660.3 987.7,673.1 985.2,685.8 989.0,698.6 990.3,710.1 987.7,711.4 982.6,706.3 977.5,696.1 973.7,685.8 968.6,678.2 963.5,670.5 953.3,660.3 940.5,647.6 932.9,643.8 M987.7,568.5 990.3,578.7 996.6,594.0 1005.6,606.8 1014.5,618.2 1017.0,629.7 1020.9,645.0 1023.4,660.3 1023.4,673.1 1026.0,688.4 1027.2,703.7 1022.1,694.8 1014.5,678.2 1001.7,665.4 991.5,655.2 987.7,647.6 M1001.7,539.2 1009.4,545.5 1014.5,553.2 1017.0,565.9 1024.7,576.2 1031.1,588.9 1034.9,601.7 1042.6,617.0 1041.3,627.2 1038.7,632.3 1041.3,645.0 1045.1,657.8 1050.2,670.5 1051.5,685.8 1045.1,680.7 1034.9,675.6 1037.4,665.4 1034.9,655.2 1031.1,647.6 1026.0,647.6 1022.1,651.4 1023.4,660.3 M1042.6,617.0 1045.1,622.1 1050.2,634.8 1057.9,647.6 1060.4,660.3 1066.8,675.6 1071.9,674.4"/>
<path id="b11" d="M641.2,1034.1 650.1,1026.5 661.6,1023.9 673.1,1017.5 683.3,1016.3 690.9,1020.1 696.0,1029.0 697.3,1032.8 685.8,1036.7 678.2,1044.3 673.1,1050.7 665.4,1050.7 655.2,1044.3 642.4,1040.5Z"/>
<path id="landover" d="M111.9,618.9 115.1,617.0 122.7,618.3 129.1,619.6 129.7,622.8 125.9,625.9 120.2,627.9 115.1,625.9 111.9,622.8Z M117.6,631.1 121.4,627.9 131.6,625.3 139.3,624.0 155.9,622.1 152.0,629.8 146.9,636.2 139.3,637.4 129.1,640.6 121.4,636.2Z"/>
<path id="africa" d="M639.8,1225.4 639.8,1223.8 642.3,1217.2 637.3,1213.8 637.3,1209.7 649.8,1200.6 641.5,1210.5 653.1,1204.7 659.7,1204.7 663.8,1196.4 669.7,1197.3 677.1,1190.9 684.6,1191.4 689.6,1198.9 694.5,1200.6 697.8,1195.6 703.6,1198.1 711.1,1189.8 714.4,1195.6 723.5,1185.6 727.7,1190.6 728.5,1195.6 732.7,1196.4 740.1,1194.8 741.0,1190.9 750.1,1190.3 757.5,1195.6 764.2,1200.6 767.5,1207.2 772.5,1211.3 780.8,1208.0 787.4,1210.5 788.2,1215.5 795.7,1214.7 799.8,1207.2 806.5,1203.1 813.9,1208.0 812.3,1213.0 804.0,1217.2 796.5,1220.5 792.4,1225.4Z"/>
<filter id="wig" filterUnits="userSpaceOnUse" x="0" y="-30" width="2500" height="1300" color-interpolation-filters="sRGB"><feTurbulence type="fractalNoise" baseFrequency="0.045" numOctaves="2" seed="11" result="tn"/><feDisplacementMap in="SourceGraphic" in2="tn" scale="11" xChannelSelector="R" yChannelSelector="G"/></filter>
<filter id="wig2" filterUnits="userSpaceOnUse" x="1180" y="820" width="500" height="420" color-interpolation-filters="sRGB"><feTurbulence type="fractalNoise" baseFrequency="0.09" numOctaves="2" seed="4" result="tn"/><feDisplacementMap in="SourceGraphic" in2="tn" scale="6" xChannelSelector="R" yChannelSelector="G"/></filter>

</defs>
<rect width="2500" height="3771" fill="#fff"/>

<g transform="translate(0,52.5)" clip-path="url(#cpPanel)">
<g filter="url(#wig)">
<filter id="fA" filterUnits="userSpaceOnUse" x="0" y="-40" width="2500" height="1320" color-interpolation-filters="sRGB"><feGaussianBlur in="SourceGraphic" stdDeviation="14" result="h"/><feTurbulence type="turbulence" baseFrequency="0.02" numOctaves="4" seed="5" result="t"/><feColorMatrix in="t" type="matrix" values="1 0 0 0 0 1 0 0 0 0 1 0 0 0 0 0 0 0 0 1" result="n0"/><feComponentTransfer in="n0" result="n"><feFuncR type="gamma" amplitude="1.8" exponent="1.4"/><feFuncG type="gamma" amplitude="1.8" exponent="1.4"/><feFuncB type="gamma" amplitude="1.8" exponent="1.4"/></feComponentTransfer><feComposite in="h" in2="n" operator="arithmetic" k1="0.3" k2="0.86" k3="0" k4="0" result="hn"/><feComponentTransfer in="hn" result="col"><feFuncR type="table" tableValues="0.415 0.424 0.484 0.545 0.605 0.666 0.729 0.789 0.849 0.910 0.961 0.961 0.961 0.961 0.961 0.961 0.961 0.961 0.961"/><feFuncG type="table" tableValues="0.691 0.695 0.722 0.747 0.774 0.801 0.826 0.854 0.881 0.906 0.918 0.841 0.761 0.685 0.607 0.528 0.451 0.374 0.295"/><feFuncB type="table" tableValues="0.212 0.217 0.222 0.227 0.233 0.238 0.243 0.248 0.254 0.259 0.259 0.259 0.259 0.259 0.259 0.259 0.259 0.259 0.259"/><feFuncA type="discrete" tableValues="1 1"/></feComponentTransfer><feColorMatrix in="hn" type="matrix" values="0 0 0 0 1 0 0 0 0 1 0 0 0 0 1 1 0 0 0 0" result="bump"/><feGaussianBlur in="bump" stdDeviation="1.2" result="bump2"/><feDiffuseLighting in="bump2" surfaceScale="13" diffuseConstant="1" lighting-color="#fff" result="lit"><feDistantLight azimuth="225" elevation="45"/></feDiffuseLighting><feComposite in="col" in2="lit" operator="arithmetic" k1="0.75" k2="0.47" k3="0" k4="0" result="shaded"/><feComponentTransfer in="shaded"><feFuncA type="discrete" tableValues="1 1"/></feComponentTransfer></filter><g filter="url(#fA)"><rect x="-100" y="-100" width="2700" height="1500" fill="#0d0d0d"/><polygon fill="#171717" points="1421,-6 2470,-6 2470,192 1995,192 1766,192 1551,116"/><polygon fill="#212121" points="1460,-6 2470,-6 2470,185 1995,185 1766,185 1574,108"/><polygon fill="#2a2a2a" points="1506,-6 2470,-6 2470,162 2072,162 1957,192 1766,177 1689,93 1574,78"/><polygon fill="#343434" points="1628,-6 2470,-6 2470,147 2148,131 1995,170 1919,223 1812,269 1766,223 1720,147 1659,70"/><polygon fill="#3e3e3e" points="1842,-6 2470,-6 2470,131 2225,108 2072,70"/><polygon fill="#171717" points="356,361 410,330 479,300 586,246 685,223 815,170 915,147 1250,9 1250,682 1160,667 1106,606 1068,667 1030,698 968,713 892,728 846,759 831,835 815,866 769,835 739,912 700,965 632,1011 586,1004 524,981 479,958 417,935 410,835 356,759 341,720 348,606 356,491"/><polygon fill="#212121" points="448,575 456,468 509,376 586,300 685,246 815,192 915,170 1250,39 1250,652 1160,644 1121,590 1068,644 1007,682 930,698 876,728 831,759 815,820 769,828 724,896 678,950 632,988 586,988 547,950 509,874 517,835 540,759 509,682 479,621"/><polygon fill="#2a2a2a" points="547,606 555,529 601,422 662,330 739,261 815,223 915,192 1007,223 1045,185 1250,85 1250,621 1160,606 1137,560 1076,606 999,652 915,667 861,698 815,744 785,789 739,805 708,759 662,720 616,705 586,667"/><polygon fill="#2a2a2a" points="601,797 632,789 655,835 662,881 632,896 609,851"/><polygon fill="#2a2a2a" points="570,912 601,904 609,958 578,973"/><polygon fill="#343434" points="655,590 662,491 693,391 739,323 815,269 892,238 930,300 968,346 1007,330 1030,254 1121,192 1250,147 1250,590 1183,575 1152,529 1106,560 1045,590 968,629 892,652 815,682 739,682 685,652"/><polygon fill="#3e3e3e" points="685,529 700,422 739,353 800,315 846,330 846,376 892,407 968,391 1014,361 1068,300 1160,254 1250,223 1250,544 1183,544 1152,499 1106,529 1060,560 1007,590 930,606 854,621 777,606 724,575"/><polygon fill="#484848" points="708,453 716,391 754,368 785,391 769,437 785,483 846,514 922,483 991,453 1045,407 1106,361 1183,353 1228,391 1198,468 1121,499 1068,529 1037,544 968,560 854,575 777,560 739,514"/><ellipse fill="#515151" cx="730" cy="413" rx="21" ry="18"/><ellipse fill="#515151" cx="1033" cy="495" rx="29" ry="38"/><ellipse fill="#515151" cx="1114" cy="426" rx="38" ry="23"/><ellipse fill="#676767" cx="1033" cy="483" rx="12" ry="14"/><polygon fill="#212121" points="1230,9 1536,39 1582,147 1567,192 1482,254 1460,330 1429,391 1421,330 1383,330 1345,391 1306,483 1276,544 1230,560"/><polygon fill="#2a2a2a" points="1230,78 1276,85 1345,70 1421,78 1482,85 1536,116 1567,177 1490,246 1460,315 1421,300 1368,315 1337,361 1299,453 1261,529 1230,544"/><polygon fill="#343434" points="1230,147 1291,139 1352,154 1421,124 1482,116 1536,139 1559,185 1498,238 1460,284 1414,269 1352,300 1306,361 1268,437 1230,483"/><polygon fill="#3e3e3e" points="1230,215 1276,223 1322,231 1383,215 1444,185 1490,147 1536,154 1551,185 1498,231 1444,254 1383,261 1330,300 1276,353 1230,391"/><ellipse fill="#484848" cx="1360" cy="254" rx="38" ry="15"/><polygon fill="#2a2a2a" points="1421,254 1482,208 1559,131 1659,93 1750,177 1827,254 1965,284 1949,147 1995,85 2470,70 2470,422 2332,437 2301,422 2256,437 2210,422 2148,445 2102,422 2041,407 2011,445 1965,445 1919,422 1888,445 1827,430 1796,445 1750,437 1704,430 1659,422 1613,407 1536,399 1490,391 1460,422 1437,391 1421,330"/><polygon fill="#343434" points="1452,254 1490,208 1559,131 1659,93 1750,177 1827,254 1965,284 1949,147 1995,85 2470,70 2470,407 2332,414 2301,391 2256,407 2210,391 2148,422 2102,391 2041,376 2011,422 1965,422 1919,399 1888,422 1827,407 1796,422 1750,414 1704,399 1659,391 1597,376 1536,368 1490,353 1460,376 1444,330"/><polygon fill="#3e3e3e" points="1490,261 1521,223 1567,147 1659,101 1750,177 1827,254 1965,292 1957,223 2003,147 2072,85 2470,70 2470,376 2378,376 2317,353 2256,376 2210,368 2148,391 2087,361 2026,353 1995,391 1949,391 1919,384 1873,391 1827,376 1781,384 1720,361 1659,353 1597,338 1536,330 1506,315"/><polygon fill="#484848" points="1551,246 1582,170 1659,108 1735,177 1819,261 1949,315 1934,376 1888,368 1827,353 1766,338 1704,307 1643,284 1582,277"/><polygon fill="#484848" points="2003,246 2041,147 2118,85 2470,70 2470,346 2355,346 2301,330 2256,353 2210,353 2164,361 2102,330 2041,315 2003,315"/><polygon fill="#515151" points="2041,238 2080,147 2148,85 2470,70 2470,300 2347,315 2286,315 2225,338 2202,376 2179,376 2164,330 2102,300 2056,284"/><polygon fill="#515151" points="1812,315 1842,284 1965,330 1919,384 1904,391 1842,368"/><ellipse fill="#515151" cx="1659" cy="177" rx="31" ry="38"/><polygon fill="#3f3f3f" points="1973,186 2202,186 2378,146 2378,343 2282,375 2242,383 2162,391 2025,399 1973,343"/><polygon fill="#2f2f2f" points="1973,190 2105,190 2121,247 2105,327 2025,359 1973,319"/><polygon fill="#2c2c2c" points="1780,-23 2057,-23 2081,46 2057,118 2025,174 1969,182 1920,158 1840,166 1780,118"/><polygon fill="#4a4a4a" points="2065,-23 2202,-23 2226,58 2202,130 2146,178 2041,182 2061,118 2089,46"/><polygon fill="#727272" points="2202,138 2234,62 2314,-23 2459,-23 2459,166 2314,126 2294,134 2270,180 2234,178"/><path d="M2162,234 L2186,226 L2202,218 L2234,206 L2270,208 L2294,162 L2314,154 L2342,170 L2378,174 L2459,180" fill="none" stroke="#515151" stroke-width="249" stroke-linecap="round" stroke-linejoin="round"/><path d="M2162,228 L2186,220 L2202,212 L2234,200 L2270,202 L2294,156 L2314,148 L2342,164 L2378,168 L2459,174" fill="none" stroke="#5e5e5e" stroke-width="209" stroke-linecap="round" stroke-linejoin="round"/><path d="M2162,223 L2186,215 L2202,207 L2234,195 L2270,197 L2294,151 L2314,143 L2342,159 L2378,163 L2459,169" fill="none" stroke="#6b6b6b" stroke-width="173" stroke-linecap="round" stroke-linejoin="round"/><path d="M2162,218 L2186,210 L2202,202 L2234,190 L2270,192 L2294,146 L2314,138 L2342,154 L2378,158 L2459,164" fill="none" stroke="#797979" stroke-width="141" stroke-linecap="round" stroke-linejoin="round"/><path d="M2162,214 L2186,206 L2202,198 L2234,186 L2270,188 L2294,142 L2314,134 L2342,150 L2378,154 L2459,160" fill="none" stroke="#868686" stroke-width="117" stroke-linecap="round" stroke-linejoin="round"/><path d="M2162,211 L2186,203 L2202,195 L2234,183 L2270,185 L2294,139 L2314,131 L2342,147 L2378,151 L2459,157" fill="none" stroke="#949494" stroke-width="96" stroke-linecap="round" stroke-linejoin="round"/><path d="M2162,209 L2186,201 L2202,193 L2234,181 L2270,183 L2294,136 L2314,128 L2342,144 L2378,149 L2459,155" fill="none" stroke="#a1a1a1" stroke-width="80" stroke-linecap="round" stroke-linejoin="round"/><path d="M2162,206 L2186,198 L2202,190 L2234,178 L2270,180 L2294,134 L2314,126 L2342,142 L2378,146 L2459,152" fill="none" stroke="#aeaeae" stroke-width="66" stroke-linecap="round" stroke-linejoin="round"/><path d="M2162,206 L2186,198 L2202,190 L2234,178 L2270,180 L2294,134 L2314,126 L2342,142 L2378,146 L2459,152" fill="none" stroke="#bcbcbc" stroke-width="54" stroke-linecap="round" stroke-linejoin="round"/><path d="M2162,206 L2186,198 L2202,190 L2234,178 L2270,180 L2294,134 L2314,126 L2342,142 L2378,146 L2459,152" fill="none" stroke="#c9c9c9" stroke-width="44" stroke-linecap="round" stroke-linejoin="round"/><path d="M2162,206 L2186,198 L2202,190 L2234,178 L2270,180 L2294,134 L2314,126 L2342,142 L2378,146 L2459,152" fill="none" stroke="#d7d7d7" stroke-width="35" stroke-linecap="round" stroke-linejoin="round"/><path d="M2162,206 L2186,198 L2202,190 L2234,178 L2270,180 L2294,134 L2314,126 L2342,142 L2378,146 L2459,152" fill="none" stroke="#e4e4e4" stroke-width="27" stroke-linecap="round" stroke-linejoin="round"/><path d="M2162,206 L2186,198 L2202,190 L2234,178 L2270,180 L2294,134 L2314,126 L2342,142 L2378,146 L2459,152" fill="none" stroke="#f2f2f2" stroke-width="20" stroke-linecap="round" stroke-linejoin="round"/><path d="M2162,206 L2186,198 L2202,190 L2234,178 L2270,180 L2294,134 L2314,126 L2342,142 L2378,146 L2459,152" fill="none" stroke="#fefefe" stroke-width="14" stroke-linecap="round" stroke-linejoin="round"/><path d="M2202,190 L2186,222 L2162,259" fill="none" stroke="#a8a8a8" stroke-width="28" stroke-linecap="round" stroke-linejoin="round"/><path d="M2270,180 L2254,214 L2238,259" fill="none" stroke="#a8a8a8" stroke-width="28" stroke-linecap="round" stroke-linejoin="round"/><path d="M2322,136 L2322,178 L2316,230" fill="none" stroke="#a8a8a8" stroke-width="28" stroke-linecap="round" stroke-linejoin="round"/><path d="M2370,146 L2362,190 L2354,234" fill="none" stroke="#a1a1a1" stroke-width="24" stroke-linecap="round" stroke-linejoin="round"/><path d="M2202,190 L2186,226" fill="none" stroke="#c9c9c9" stroke-width="16" stroke-linecap="round" stroke-linejoin="round"/><path d="M2270,180 L2256,212" fill="none" stroke="#c9c9c9" stroke-width="16" stroke-linecap="round" stroke-linejoin="round"/><path d="M2322,136 L2322,178" fill="none" stroke="#c9c9c9" stroke-width="16" stroke-linecap="round" stroke-linejoin="round"/><ellipse fill="#6b6b6b" cx="2182" cy="379" rx="30" ry="18" transform="rotate(-10 2182 379)"/><ellipse fill="#575757" cx="2302" cy="359" rx="64" ry="20" transform="rotate(-8 2302 359)"/><ellipse fill="#343434" cx="1995" cy="212" rx="34" ry="34"/><ellipse fill="#5b5b5b" cx="1731" cy="307" rx="18" ry="15"/><ellipse fill="#737373" cx="1731" cy="307" rx="8" ry="7"/><polygon fill="#2a2a2a" points="1460,411 1536,411 1689,399 1720,380 1789,388 1842,380 1888,380 1957,399 1995,395 2072,388 2110,407 2187,411 2248,388 2301,380 2424,384 2424,480 2301,476 2248,483 2187,506 2110,502 2072,483 1995,491 1957,495 1888,476 1842,476 1789,483 1720,476 1689,495 1536,506 1460,506"/><polygon fill="#212121" points="1460,430 1536,430 1689,418 1720,399 1789,407 1842,399 1888,399 1957,418 1995,414 2072,407 2110,426 2187,430 2248,407 2301,399 2424,403 2424,480 2301,476 2248,483 2187,506 2110,502 2072,483 1995,491 1957,495 1888,476 1842,476 1789,483 1720,476 1689,495 1536,506 1460,506"/><polygon fill="#171717" points="1460,450 1536,450 1689,438 1720,419 1789,427 1842,419 1888,419 1957,438 1995,434 2072,427 2110,446 2187,450 2248,427 2301,419 2424,423 2424,480 2301,476 2248,483 2187,506 2110,502 2072,483 1995,491 1957,495 1888,476 1842,476 1789,483 1720,476 1689,495 1536,506 1460,506"/><polygon fill="#0d0d0d" points="1460,470 1536,470 1689,458 1720,439 1789,446 1842,439 1888,439 1957,458 1995,454 2072,446 2110,466 2187,470 2248,446 2301,439 2424,443 2424,480 2301,476 2248,483 2187,506 2110,502 2072,483 1995,491 1957,495 1888,476 1842,476 1789,483 1720,476 1689,495 1536,506 1460,506"/><polygon fill="#343434" points="815,770 823,763 861,694 892,656 953,625 1030,606 1076,579 1137,568 1213,587 1250,583 1250,701 1213,705 1137,686 1076,698 1030,724 953,744 892,774 861,812 823,881 815,889"/><polygon fill="#2a2a2a" points="815,789 823,782 861,713 892,675 953,644 1030,625 1076,598 1137,587 1213,606 1250,602 1250,701 1213,705 1137,686 1076,698 1030,724 953,744 892,774 861,812 823,881 815,889"/><polygon fill="#212121" points="815,811 823,803 861,734 892,696 953,665 1030,646 1076,620 1137,608 1213,627 1250,623 1250,701 1213,705 1137,686 1076,698 1030,724 953,744 892,774 861,812 823,881 815,889"/><polygon fill="#171717" points="815,831 823,823 861,754 892,716 953,685 1030,666 1076,639 1137,628 1213,647 1250,643 1250,701 1213,705 1137,686 1076,698 1030,724 953,744 892,774 861,812 823,881 815,889"/><polygon fill="#0d0d0d" points="815,851 823,843 861,774 892,736 953,705 1030,686 1076,659 1137,648 1213,667 1250,663 1250,701 1213,705 1137,686 1076,698 1030,724 953,744 892,774 861,812 823,881 815,889"/><ellipse fill="#171717" cx="1383" cy="453" rx="42" ry="84" transform="rotate(20 1383 453)"/><ellipse fill="#0d0d0d" cx="1400" cy="483" rx="20" ry="46" transform="rotate(20 1400 483)"/><ellipse fill="#171717" cx="1261" cy="606" rx="46" ry="38"/><ellipse fill="#484848" cx="1647" cy="108" rx="29" ry="73" transform="rotate(15 1647 108)"/><ellipse fill="#515151" cx="1647" cy="116" rx="14" ry="46" transform="rotate(15 1647 116)"/><ellipse fill="#5e5e5e" cx="1842" cy="288" rx="122" ry="31" transform="rotate(-12 1842 288)"/><ellipse fill="#727272" cx="1735" cy="309" rx="47" ry="31"/><ellipse fill="#949494" cx="1731" cy="309" rx="26" ry="18"/><ellipse fill="#575757" cx="1647" cy="116" rx="23" ry="65" transform="rotate(15 1647 116)"/></g>
<use href="#gaps" class="bl" style="stroke-width:2.1"/>
<use href="#gibgap" class="bl" style="stroke-width:2.1"/>
<use href="#b11" class="bl" style="stroke-width:2.1"/>
<use href="#lines" class="bl" style="stroke-width:2.1"/>
<use href="#outerline" class="bl" style="stroke-width:2.1"/>
<use href="#sea" fill="#eaf6fe" stroke="#2f86e6" stroke-width="2.7" stroke-linejoin="round"/>
<use href="#landover" fill="#6bb137" stroke="#2f86e6" stroke-width="2"/>
<clipPath id="cpAfr"><rect x="699.2" y="1100" width="200" height="200"/></clipPath><use href="#africa" fill="#e1e1e1" stroke="#2f86e6" stroke-width="2.2"/><use href="#africa" fill="#6bb137" stroke="#2f86e6" stroke-width="2.2" clip-path="url(#cpAfr)"/><path d="M741,1191 L743,1205 L744.5,1226" stroke="#2f86e6" stroke-width="2.2" fill="none"/>
</g>
<text x="508.8" y="436.9" class="num">1</text>
<text x="258.5" y="705.6" class="num">2</text>
<text x="179.6" y="759.8" class="num">3</text>
<text x="211.5" y="821.2" class="num">0</text>
<text x="296.0" y="825.2" class="num">4</text>
<text x="289.6" y="915.2" class="num">5</text>
<text x="485.7" y="803.6" class="num">6</text>
<text x="432.3" y="994.2" class="num">7</text>
<text x="510.4" y="1030.0" class="num">8</text>
<text x="563.8" y="1040.4" class="num">9</text>
<text x="601.3" y="1080.2" class="num">10</text>
<text x="669.0" y="1044.4" class="num">11</text>
<text x="623.6" y="930.4" class="num">12</text>
<text x="673.0" y="849.1" class="num">13</text>
<text x="782.3" y="613.9" class="num">14</text>
<text x="837.3" y="751.0" class="num">15</text>
<text x="856.4" y="712.0" class="num">16</text>
<text x="916.2" y="695.2" class="num">17</text>
<text x="955.2" y="680.1" class="num">18</text>
<text x="940.1" y="641.8" class="num">19</text>
<text x="985.5" y="631.4" class="num">20</text>
<text x="1023.8" y="615.5" class="num">21</text>
<text x="1063.7" y="581.2" class="num">22</text>
<text x="1139.4" y="632.2" class="num">23</text>
<text x="1232.7" y="617.9" class="num">24</text>
<text x="1222.3" y="316.5" class="num">25</text>
<text x="1312.4" y="604.3" class="num">49</text>
<text x="1410.4" y="476.0" class="num">26</text>
<text x="1467.8" y="372.3" class="num">27</text>
<text x="1502.1" y="436.1" class="num">28</text>
<text x="1546.8" y="444.1" class="num">29</text>
<text x="1625.7" y="458.4" class="num">30</text>
<text x="1634.5" y="327.7" class="num">31</text>
<text x="1719.7" y="421.8" class="num">32</text>
<text x="1778.7" y="389.1" class="num">33</text>
<text x="1777.1" y="426.6" class="num">34</text>
<text x="1817.0" y="399.5" class="num">35</text>
<text x="1830.6" y="440.9" class="num">36</text>
<text x="1854.5" y="402.6" class="num">37</text>
<text x="1893.5" y="406.6" class="num">38</text>
<text x="1912.7" y="444.1" class="num">39</text>
<text x="1952.5" y="436.1" class="num">40</text>
<text x="1988.4" y="438.5" class="num">41</text>
<text x="1984.4" y="391.5" class="num">42</text>
<text x="2179.7" y="299.8" class="num">43</text>
<text x="2123.9" y="456.1" class="num">44</text>
<text x="2169.4" y="456.1" class="num">45</text>
<text x="2217.2" y="434.5" class="num">46</text>
<text x="2260.2" y="440.9" class="num">47</text>
<text x="2339.2" y="399.5" class="num">48</text>
<text x="74.1" y="602.8" class="city">Ca</text>
<text x="761.3" y="1046.0" class="city">Gb</text>
<text x="1331.3" y="211.4" class="city">At</text>
<text x="1475.6" y="511.9" class="city">Ma</text>
<text x="2091.8" y="528.7" class="city">Mt</text>
<text x="2057.6" y="119.7" class="city">Gr</text>
<text x="637.0" y="97.3" class="brn" textLength="257" lengthAdjust="spacingAndGlyphs">Guadalquivir basin</text>
<text x="1296.4" y="294.3" class="brn" textLength="124" lengthAdjust="spacingAndGlyphs">Torcal de</text>
<text x="1293.9" y="329.5" class="brn" textLength="140" lengthAdjust="spacingAndGlyphs">Antequera</text>
<text x="2024.9" y="146.8" class="brn" textLength="194" lengthAdjust="spacingAndGlyphs">Sierra Nevada</text>
<text class="brn" transform="translate(1727,278.5) rotate(10.8)" textLength="252" lengthAdjust="spacingAndGlyphs">Sierra de Almijara</text>
<text class="brn" transform="translate(781,639.5) rotate(-25.4)" textLength="258" lengthAdjust="spacingAndGlyphs">Serranía de Ronda</text>
<path id="pAtl" d="M125.5,1143.0 Q245.5,1165.0 366,1142.0" fill="none"/>
<text class="sea" style="font-size:59px"><textPath href="#pAtl" textLength="240" lengthAdjust="spacingAndGlyphs">Atlantic</textPath></text>
<path id="pMed" d="M1051.4,893.9 Q1318.8,806.4 1559.5,660.7" fill="none"/>
<text class="sea" style="font-size:60px"><textPath href="#pMed" textLength="563" lengthAdjust="spacingAndGlyphs">Mediterranean sea</textPath></text>
<text x="91.0" y="84.5" class="pl">A)</text>
<g filter="url(#wig2)">
<path d="M1248.8,913.5 1257.4,904.9 1274.6,899.2 1286.1,892.0 1293.3,893.4 1304.8,902.0 1320.5,900.6 1340.6,899.2 1360.7,904.9 1375.1,909.2 1395.2,906.3 1406.6,910.6 1426.7,907.8 1446.8,909.2 1452.6,902.0 1458.3,881.9 1606.1,881.9 1606.1,897.7 1596.1,899.2 1584.6,909.2 1576.0,922.1 1577.4,936.5 1583.1,943.6 1578.8,956.6 1564.5,970.9 1550.1,982.4 1532.9,992.4 1518.6,1003.9 1511.4,1008.2 1504.2,1019.7 1495.6,1036.9 1489.9,1054.1 1492.7,1065.6 1504.2,1074.2 1495.6,1085.7 1484.1,1097.2 1476.9,1111.5 1479.8,1117.3 1458.3,1125.9 1449.7,1137.4 1441.1,1148.8 1423.9,1150.3 1410.9,1148.8 1400.9,1150.3 1383.7,1148.8 1366.5,1156.0 1355.0,1158.9 1343.5,1171.8 1337.8,1173.2 1326.3,1167.5 1320.5,1156.0 1314.8,1147.4 1303.3,1137.4 1286.1,1130.2 1268.9,1131.6 1243.0,1133.1 1248.8,1117.3 1247.4,1100.1 1250.2,1082.8 1240.2,1081.4 1231.6,1071.4 1235.9,1054.1 1247.4,1045.5 1256.0,1025.4 1261.7,996.7 1258.8,968.0 1257.4,953.7 1260.3,942.2 1253.1,930.7 1247.4,919.2Z" fill="#e1e1e1" stroke="#9a9a9a" stroke-width="0.8"/>
<path d="M1564.5,1042.7 1584.6,1028.3 1594.6,1035.5 1584.6,1049.8 1573.1,1045.5Z" fill="#e1e1e1" stroke="#9a9a9a" stroke-width="0.8"/>
<path d="M1534.3,1065.6 1541.5,1060.4 1543.8,1065.6 1537.2,1069.9Z" fill="#e1e1e1" stroke="#9a9a9a" stroke-width="0.8"/>
<path d="M1602.9,1021.4 1607.0,1020.8 1607.5,1024.9 1604.1,1025.4Z" fill="#e1e1e1" stroke="#9a9a9a" stroke-width="0.8"/>
<path d="M1326.3,1191.9 1330.6,1181.8 1343.5,1179.0 1349.2,1191.9Z" fill="#e1e1e1" stroke="#9a9a9a" stroke-width="0.8"/>
<path d="M1258.8,952.3 1274.6,950.8 1283.2,959.4 1309.1,958.0 1326.3,970.9 1314.8,985.3 1309.1,993.9 1310.5,1016.8 1303.3,1022.6 1297.6,1042.7 1291.8,1045.5 1300.4,1065.6 1297.6,1088.6 1301.9,1097.2 1286.1,1117.3 1286.1,1130.2 M1304.8,902.0 1310.5,917.8 1313.4,923.6 1307.6,933.6 1313.4,945.1 1309.1,958.0 M1313.4,923.6 1326.3,919.2 1343.5,920.7 1366.5,914.9 1383.7,925.0 1400.9,922.1 1408.1,913.5 M1310.5,1016.8 1323.4,1014.0 1334.9,1019.7 1350.7,1026.9 1372.2,1021.1 1383.7,1005.3 1400.9,986.7 1413.8,983.8 1426.7,991.0 1439.6,989.6 1445.4,968.0 1446.8,959.4 1428.2,958.0 1412.4,950.8 1412.4,936.5 1429.6,933.6 1435.3,936.5 1446.8,909.2 M1372.2,1021.1 1390.9,1034.0 1398.0,1029.7 1413.8,1026.9 1409.5,1016.8 1402.3,1002.5 1400.9,986.7 M1350.7,1026.9 1349.2,1036.9 1356.4,1048.4 1366.5,1054.1 1363.6,1065.6 1357.8,1077.1 1343.5,1091.4 1340.6,1101.5 1320.5,1102.9 1301.9,1097.2 M1357.8,1077.1 1377.9,1088.6 1400.9,1087.1 1421.0,1085.7 1429.6,1094.3 1432.5,1102.9 1443.9,1117.3 1452.6,1125.9 M1439.6,989.6 1452.6,999.6 1455.4,1011.1 1449.7,1016.8 1459.7,1026.9 1465.5,1031.2 1458.3,1045.5 1464.0,1059.9 1471.2,1074.2 1458.3,1085.7 1443.9,1094.3 1432.5,1102.9 M1446.8,959.4 1454.0,942.2 1472.6,925.0 1487.0,929.3 1512.8,932.2 1514.3,950.8 1507.1,973.8 1504.2,993.9 1504.2,1003.9 1492.7,1003.9 1487.0,1016.8 1475.5,1034.0 1465.5,1031.2 M1512.8,932.2 1530.0,933.6 1535.8,939.3 1555.9,939.3 1576.0,936.5 M1504.2,1003.9 1511.4,1008.2 M1471.2,1074.2 1479.8,1077.1 M1471.2,1074.2 1469.8,1100.1 1476.9,1111.5 M1406.6,910.6 1412.4,925.0 1426.7,930.7 1435.3,936.5 M1366.5,914.9 1369.3,909.2 M1446.8,909.2 1458.3,919.2 1472.6,925.0" fill="none" stroke="#6e6e6e" stroke-width="0.9"/>
<path d="M1320.5,1156.0 1326.3,1148.8 1337.8,1146.0 1355.0,1138.8 1360.7,1134.5 1375.1,1133.1 1379.4,1140.2 1386.5,1146.0 1395.2,1146.0 1395.2,1140.2 1409.5,1137.4 1410.9,1148.8 1400.9,1150.3 1383.7,1148.8 1366.5,1156.0 1355.0,1158.9 1343.5,1171.8 1337.8,1173.2 1326.3,1167.5Z" fill="#c9fb9c" stroke="#567a38" stroke-width="0.9"/>
</g>
</g>
<g transform="translate(0,1276.5)" clip-path="url(#cpPanel)">
<g filter="url(#wig)">
<rect x="-50" y="-50" width="2600" height="1324.0" fill="#e1e1e1"/>
<g clip-path="url(#cpOuter)"><filter id="fB" filterUnits="userSpaceOnUse" x="0" y="-40" width="2500" height="1320" color-interpolation-filters="sRGB"><feGaussianBlur stdDeviation="17"/><feComponentTransfer><feFuncR type="discrete" tableValues="0.220 0.306 0.392 0.478 0.565 0.655 0.741 0.827 0.914 1.000 1.000 1.000 1.000 1.000 1.000 1.000 1.000 1.000 1.000"/><feFuncG type="discrete" tableValues="0.659 0.698 0.733 0.773 0.812 0.847 0.886 0.925 0.961 1.000 0.890 0.776 0.667 0.557 0.443 0.333 0.224 0.110 0.000"/><feFuncB type="discrete" tableValues="0.000 0.000 0.000 0.000 0.000 0.000 0.000 0.000 0.000 0.000 0.000 0.000 0.000 0.000 0.000 0.000 0.000 0.000 0.000"/><feFuncA type="discrete" tableValues="1 1"/></feComponentTransfer></filter><g filter="url(#fB)"><rect x="-100" y="-100" width="2700" height="1500" fill="#141414"/><polygon fill="#222222" points="356,361 410,330 479,300 586,246 685,223 815,170 915,147 1250,9 1250,682 1160,667 1106,606 1068,667 1030,698 968,713 892,728 846,759 831,835 815,866 769,835 739,912 700,965 632,1011 586,1004 524,981 479,958 417,935 410,835 356,759 341,720 348,606 356,491"/><polygon fill="#2f2f2f" points="448,575 456,468 509,376 586,300 685,246 815,192 915,170 1250,39 1250,652 1160,644 1121,590 1068,644 1007,682 930,698 876,728 831,759 815,820 769,828 724,896 678,950 632,988 586,988 547,950 509,874 517,835 540,759 509,682 479,621"/><polygon fill="#3c3c3c" points="547,606 555,529 601,422 662,330 739,261 815,223 915,192 1007,223 1045,185 1250,85 1250,621 1160,606 1137,560 1076,606 999,652 915,667 861,698 815,744 785,789 739,805 708,759 662,720 616,705 586,667"/><polygon fill="#3c3c3c" points="601,797 632,789 655,835 662,881 632,896 609,851"/><polygon fill="#3c3c3c" points="570,912 601,904 609,958 578,973"/><polygon fill="#4a4a4a" points="655,590 662,491 693,391 739,323 815,269 892,238 930,300 968,346 1007,330 1030,254 1121,192 1250,147 1250,590 1183,575 1152,529 1106,560 1045,590 968,629 892,652 815,682 739,682 685,652"/><polygon fill="#575757" points="685,529 700,422 739,353 800,315 846,330 846,376 892,407 968,391 1014,361 1068,300 1160,254 1250,223 1250,544 1183,544 1152,499 1106,529 1060,560 1007,590 930,606 854,621 777,606 724,575"/><polygon fill="#656565" points="708,453 716,391 754,368 785,391 769,437 785,483 846,514 922,483 991,453 1045,407 1106,361 1183,353 1228,391 1198,468 1121,499 1068,529 1037,544 968,560 854,575 777,560 739,514"/><ellipse fill="#727272" cx="730" cy="413" rx="21" ry="18"/><ellipse fill="#727272" cx="1033" cy="495" rx="29" ry="38"/><ellipse fill="#727272" cx="1114" cy="426" rx="38" ry="23"/><ellipse fill="#8d8d8d" cx="1033" cy="483" rx="12" ry="14"/><polygon fill="#2f2f2f" points="1230,9 1536,39 1582,147 1567,192 1482,254 1460,330 1429,391 1421,330 1383,330 1345,391 1306,483 1276,544 1230,560"/><polygon fill="#3c3c3c" points="1230,78 1276,85 1345,70 1421,78 1482,85 1536,116 1567,177 1490,246 1460,315 1421,300 1368,315 1337,361 1299,453 1261,529 1230,544"/><polygon fill="#4a4a4a" points="1230,147 1291,139 1352,154 1421,124 1482,116 1536,139 1559,185 1498,238 1460,284 1414,269 1352,300 1306,361 1268,437 1230,483"/><polygon fill="#575757" points="1230,215 1276,223 1322,231 1383,215 1444,185 1490,147 1536,154 1551,185 1498,231 1444,254 1383,261 1330,300 1276,353 1230,391"/><ellipse fill="#656565" cx="1360" cy="254" rx="38" ry="15"/><polygon fill="#3c3c3c" points="1421,254 1482,208 1559,131 1659,93 1750,177 1827,254 1965,284 1949,147 1995,85 2470,70 2470,422 2332,437 2301,422 2256,437 2210,422 2148,445 2102,422 2041,407 2011,445 1965,445 1919,422 1888,445 1827,430 1796,445 1750,437 1704,430 1659,422 1613,407 1536,399 1490,391 1460,422 1437,391 1421,330"/><polygon fill="#4a4a4a" points="1452,254 1490,208 1559,131 1659,93 1750,177 1827,254 1965,284 1949,147 1995,85 2470,70 2470,407 2332,414 2301,391 2256,407 2210,391 2148,422 2102,391 2041,376 2011,422 1965,422 1919,399 1888,422 1827,407 1796,422 1750,414 1704,399 1659,391 1597,376 1536,368 1490,353 1460,376 1444,330"/><polygon fill="#575757" points="1490,261 1521,223 1567,147 1659,101 1750,177 1827,254 1965,292 1957,223 2003,147 2072,85 2470,70 2470,376 2378,376 2317,353 2256,376 2210,368 2148,391 2087,361 2026,353 1995,391 1949,391 1919,384 1873,391 1827,376 1781,384 1720,361 1659,353 1597,338 1536,330 1506,315"/><polygon fill="#656565" points="1551,246 1582,170 1659,108 1735,177 1819,261 1949,315 1934,376 1888,368 1827,353 1766,338 1704,307 1643,284 1582,277"/><polygon fill="#656565" points="2003,246 2041,147 2118,85 2470,70 2470,346 2355,346 2301,330 2256,353 2210,353 2164,361 2102,330 2041,315 2003,315"/><polygon fill="#727272" points="2041,238 2080,147 2148,85 2470,70 2470,300 2347,315 2286,315 2225,338 2202,376 2179,376 2164,330 2102,300 2056,284"/><polygon fill="#727272" points="1812,315 1842,284 1965,330 1919,384 1904,391 1842,368"/><ellipse fill="#727272" cx="1659" cy="177" rx="31" ry="38"/><ellipse fill="#808080" cx="2252" cy="168" rx="147" ry="162"/><ellipse fill="#8d8d8d" cx="2252" cy="168" rx="133" ry="145"/><ellipse fill="#9a9a9a" cx="2252" cy="168" rx="120" ry="130"/><ellipse fill="#a8a8a8" cx="2252" cy="168" rx="108" ry="115"/><ellipse fill="#b5b5b5" cx="2252" cy="168" rx="96" ry="98"/><ellipse fill="#c3c3c3" cx="2252" cy="168" rx="84" ry="80"/><ellipse fill="#808080" cx="2193" cy="353" rx="17" ry="38"/><ellipse fill="#d0d0d0" cx="2259" cy="171" rx="77" ry="47" transform="rotate(-20 2259 171)"/><ellipse fill="#dddddd" cx="2263" cy="168" rx="60" ry="29" transform="rotate(-22 2263 168)"/><ellipse fill="#4a4a4a" cx="1995" cy="212" rx="34" ry="34"/><ellipse fill="#808080" cx="1731" cy="307" rx="18" ry="15"/><ellipse fill="#9a9a9a" cx="1731" cy="307" rx="8" ry="7"/><polygon fill="#3c3c3c" points="1460,411 1536,411 1689,399 1720,380 1789,388 1842,380 1888,380 1957,399 1995,395 2072,388 2110,407 2187,411 2248,388 2301,380 2424,384 2424,480 2301,476 2248,483 2187,506 2110,502 2072,483 1995,491 1957,495 1888,476 1842,476 1789,483 1720,476 1689,495 1536,506 1460,506"/><polygon fill="#2f2f2f" points="1460,430 1536,430 1689,418 1720,399 1789,407 1842,399 1888,399 1957,418 1995,414 2072,407 2110,426 2187,430 2248,407 2301,399 2424,403 2424,480 2301,476 2248,483 2187,506 2110,502 2072,483 1995,491 1957,495 1888,476 1842,476 1789,483 1720,476 1689,495 1536,506 1460,506"/><polygon fill="#222222" points="1460,450 1536,450 1689,438 1720,419 1789,427 1842,419 1888,419 1957,438 1995,434 2072,427 2110,446 2187,450 2248,427 2301,419 2424,423 2424,480 2301,476 2248,483 2187,506 2110,502 2072,483 1995,491 1957,495 1888,476 1842,476 1789,483 1720,476 1689,495 1536,506 1460,506"/><polygon fill="#141414" points="1460,470 1536,470 1689,458 1720,439 1789,446 1842,439 1888,439 1957,458 1995,454 2072,446 2110,466 2187,470 2248,446 2301,439 2424,443 2424,480 2301,476 2248,483 2187,506 2110,502 2072,483 1995,491 1957,495 1888,476 1842,476 1789,483 1720,476 1689,495 1536,506 1460,506"/><polygon fill="#4a4a4a" points="815,770 823,763 861,694 892,656 953,625 1030,606 1076,579 1137,568 1213,587 1250,583 1250,701 1213,705 1137,686 1076,698 1030,724 953,744 892,774 861,812 823,881 815,889"/><polygon fill="#3c3c3c" points="815,789 823,782 861,713 892,675 953,644 1030,625 1076,598 1137,587 1213,606 1250,602 1250,701 1213,705 1137,686 1076,698 1030,724 953,744 892,774 861,812 823,881 815,889"/><polygon fill="#2f2f2f" points="815,811 823,803 861,734 892,696 953,665 1030,646 1076,620 1137,608 1213,627 1250,623 1250,701 1213,705 1137,686 1076,698 1030,724 953,744 892,774 861,812 823,881 815,889"/><polygon fill="#222222" points="815,831 823,823 861,754 892,716 953,685 1030,666 1076,639 1137,628 1213,647 1250,643 1250,701 1213,705 1137,686 1076,698 1030,724 953,744 892,774 861,812 823,881 815,889"/><polygon fill="#141414" points="815,851 823,843 861,774 892,736 953,705 1030,686 1076,659 1137,648 1213,667 1250,663 1250,701 1213,705 1137,686 1076,698 1030,724 953,744 892,774 861,812 823,881 815,889"/><ellipse fill="#222222" cx="1383" cy="453" rx="42" ry="84" transform="rotate(20 1383 453)"/><ellipse fill="#141414" cx="1400" cy="483" rx="20" ry="46" transform="rotate(20 1400 483)"/><ellipse fill="#222222" cx="1261" cy="606" rx="46" ry="38"/></g></g>
<use href="#gaps" class="bl" style="fill:#e1e1e1;stroke-width:1.9"/>
<use href="#gibgap" class="bl" style="fill:#e1e1e1;stroke-width:1.9"/>
<use href="#b11" class="bl"/>
<use href="#lines" class="bl"/>
<use href="#outerline" class="bl"/>
<use href="#sea" fill="#eaf6fe" stroke="#333" stroke-width="1.8" stroke-linejoin="round"/>
<use href="#landover" fill="#e1e1e1" stroke="#333" stroke-width="1.4"/>
<use href="#africa" fill="#e1e1e1" stroke="#333" stroke-width="1.4"/>
</g>
<text x="75.3" y="600.4" class="city">Ca</text>
<text x="760.2" y="1043.8" class="city">Gb</text>
<text x="1331.0" y="230.7" class="city">At</text>
<text x="1473.4" y="510.8" class="city">Ma</text>
<text x="2091.0" y="523.8" class="city">Mt</text>
<text x="2055.0" y="115.9" class="city">Gr</text>
<text x="90.8" y="87.9" class="pl">B)</text>
</g>
<g transform="translate(0,2500.5)" clip-path="url(#cpPanel)">
<g filter="url(#wig)">
<rect x="-50" y="-50" width="2600" height="1324.0" fill="#e1e1e1"/>
<g clip-path="url(#cpOuter)"><filter id="fC" filterUnits="userSpaceOnUse" x="0" y="-40" width="2500" height="1320" color-interpolation-filters="sRGB"><feGaussianBlur in="SourceGraphic" stdDeviation="7" result="h"/><feTurbulence type="turbulence" baseFrequency="0.026" numOctaves="4" seed="2" result="t"/><feColorMatrix in="t" type="matrix" values="1 0 0 0 0 1 0 0 0 0 1 0 0 0 0 0 0 0 0 1" result="n0"/><feComponentTransfer in="n0" result="n"><feFuncR type="gamma" amplitude="1.8" exponent="1.4"/><feFuncG type="gamma" amplitude="1.8" exponent="1.4"/><feFuncB type="gamma" amplitude="1.8" exponent="1.4"/></feComponentTransfer><feComposite in="h" in2="n" operator="arithmetic" k1="0.5" k2="0.62" k3="0" k4="0" result="hn"/><feComponentTransfer in="hn"><feFuncR type="discrete" tableValues="0.220 0.324 0.428 0.532 0.636 0.740 0.844 0.948 1.000 1.000 1.000 1.000 1.000 1.000 1.000 1.000"/><feFuncG type="discrete" tableValues="0.659 0.704 0.750 0.795 0.841 0.886 0.932 0.977 0.933 0.800 0.667 0.533 0.400 0.267 0.133 0.000"/><feFuncB type="discrete" tableValues="0.000 0.000 0.000 0.000 0.000 0.000 0.000 0.000 0.000 0.000 0.000 0.000 0.000 0.000 0.000 0.000"/><feFuncA type="discrete" tableValues="1 1"/></feComponentTransfer></filter><g filter="url(#fC)"><rect x="-100" y="-100" width="2700" height="1500" fill="#181818"/><polygon fill="#282828" points="341,422 394,361 479,315 586,269 685,231 815,177 900,170 922,223 953,315 999,353 1022,177 1250,39 1250,606 1137,575 1106,590 1068,652 1014,682 953,698 892,728 846,759 815,835 769,820 739,896 693,958 632,1004 578,988 509,965 417,927 356,896 302,851 356,789 356,682 326,606 310,514"/><polygon fill="#383838" points="417,483 479,391 586,315 685,261 815,208 892,192 915,246 945,330 991,376 1030,208 1250,70 1250,590 1137,560 1098,575 1060,636 1007,667 945,682 884,713 838,744 808,805 762,805 724,874 678,942 632,981 586,965 540,912 479,896 433,835 448,744 448,636 417,575"/><polygon fill="#484848" points="509,483 586,361 685,292 815,223 884,215 907,269 938,346 984,391 1037,238 1250,101 1250,575 1144,544 1098,560 1045,621 999,652 938,667 876,698 831,728 800,774 739,774 708,713 662,682 616,682 586,636 540,575"/><polygon fill="#484848" points="479,682 540,652 586,682 601,759 570,835 524,896 479,851 463,759"/><polygon fill="#484848" points="570,820 616,805 662,881 670,958 616,988 570,942 555,874"/><polygon fill="#484848" points="616,744 662,759 708,820 739,866 708,896 662,835 624,789"/><polygon fill="#585858" points="586,483 632,391 708,315 815,246 876,238 900,284 930,353 892,391 815,422 846,453 968,407 1045,269 1250,147 1250,560 1144,529 1091,544 1037,598 991,636 930,652 869,682 823,705 769,728 724,698 693,652 647,621 609,560"/><polygon fill="#585858" points="586,866 624,851 655,912 639,965 601,958"/><polygon fill="#787878" points="662,483 678,422 724,346 785,300 831,284 846,330 815,391 769,422 739,483 708,529"/><polygon fill="#787878" points="739,575 785,514 861,453 938,391 984,422 968,529 907,606 861,667 800,698 754,652"/><polygon fill="#787878" points="1060,315 1137,254 1250,192 1250,544 1152,514 1091,468 1045,391"/><polygon fill="#787878" points="1014,514 1076,514 1083,575 1045,606 1014,575"/><polygon fill="#8a8a8a" points="708,391 754,330 800,315 815,353 777,391 739,422"/><polygon fill="#8a8a8a" points="769,560 815,499 876,468 922,483 930,544 892,606 846,652 800,667 769,621"/><polygon fill="#8a8a8a" points="1106,330 1183,284 1250,246 1250,529 1167,499 1106,437"/><ellipse fill="#9c9c9c" cx="766" cy="349" rx="27" ry="19"/><ellipse fill="#9c9c9c" cx="823" cy="544" rx="31" ry="54" transform="rotate(30 823 544)"/><ellipse fill="#9c9c9c" cx="869" cy="598" rx="27" ry="61" transform="rotate(20 869 598)"/><polygon fill="#9c9c9c" points="1137,376 1250,315 1250,514 1183,483 1121,437"/><ellipse fill="#c0c0c0" cx="819" cy="529" rx="11" ry="38" transform="rotate(35 819 529)"/><ellipse fill="#c0c0c0" cx="861" cy="598" rx="8" ry="46" transform="rotate(20 861 598)"/><ellipse fill="#9c9c9c" cx="1160" cy="445" rx="61" ry="38"/><ellipse fill="#aeaeae" cx="1171" cy="445" rx="34" ry="21"/><polygon fill="#282828" points="1230,24 1521,39 1590,162 1659,147 1720,208 1789,292 1812,330 1919,368 1965,330 1965,215 2026,177 2286,116 2386,139 2378,353 2408,361 2378,453 1460,491 1437,529 1322,629 1230,652"/><polygon fill="#383838" points="1230,70 1506,78 1567,177 1643,185 1704,223 1766,300 1781,346 1888,376 1919,391 1965,353 1980,238 2026,200 2286,139 2370,162 2363,353 2378,422 2225,437 2072,437 1995,453 1919,445 1766,445 1659,430 1521,422 1475,407 1429,422 1368,483 1306,560 1230,575"/><polygon fill="#484848" points="1230,101 1490,101 1551,192 1521,246 1490,269 1460,330 1429,376 1352,453 1291,529 1230,544"/><polygon fill="#484848" points="1521,269 1567,208 1643,200 1697,238 1750,300 1758,346 1720,391 1659,407 1582,407 1536,376 1513,323"/><polygon fill="#484848" points="1988,254 2034,215 2286,154 2363,177 2355,346 2286,376 2225,391 2179,407 2087,407 2026,376 1988,330"/><polygon fill="#484848" points="1781,353 1888,384 1904,407 1842,422 1781,407"/><polygon fill="#484848" points="1919,361 1995,361 2011,407 1949,422"/><polygon fill="#484848" points="2301,376 2378,361 2370,422 2317,422"/><polygon fill="#585858" points="1230,131 1460,131 1521,200 1490,254 1444,315 1383,391 1306,483 1230,514"/><polygon fill="#585858" points="1536,284 1574,231 1643,215 1689,254 1735,307 1735,346 1689,376 1613,384 1551,353"/><polygon fill="#585858" points="2003,261 2041,231 2286,170 2355,192 2347,330 2286,361 2210,376 2148,391 2087,384 2034,353 2003,315"/><polygon fill="#787878" points="1230,192 1306,177 1421,185 1482,215 1444,284 1368,361 1291,453 1230,483"/><polygon fill="#787878" points="1559,292 1590,246 1643,238 1689,277 1712,315 1682,353 1613,361 1574,338"/><polygon fill="#787878" points="2026,269 2064,238 2286,185 2340,208 2332,315 2271,346 2194,368 2133,376 2080,361 2041,330"/><polygon fill="#8a8a8a" points="1230,246 1276,246 1306,315 1291,422 1230,468"/><polygon fill="#8a8a8a" points="1590,300 1613,269 1659,277 1697,307 1666,338 1613,338"/><polygon fill="#8a8a8a" points="2049,277 2080,223 2118,223 2148,277 2210,246 2240,215 2301,147 2332,162 2317,223 2301,300 2248,338 2179,361 2125,353 2072,330"/><polygon fill="#9c9c9c" points="1230,300 1261,315 1261,407 1230,437"/><ellipse fill="#9c9c9c" cx="1643" cy="307" rx="38" ry="19" transform="rotate(20 1643 307)"/><polygon fill="#9c9c9c" points="2064,284 2083,231 2110,238 2141,292 2217,261 2256,215 2309,158 2324,170 2301,238 2278,307 2232,338 2171,353 2125,346 2080,323"/><polygon fill="#c0c0c0" points="2072,284 2087,246 2106,254 2133,300 2225,277 2259,223 2309,166 2317,173 2294,246 2263,315 2217,338 2164,346 2118,330"/><ellipse fill="#9c9c9c" cx="1647" cy="307" rx="34" ry="12" transform="rotate(20 1647 307)"/><polygon fill="#e5e5e5" points="2110,300 2148,307 2225,292 2256,300 2240,330 2187,342 2133,330"/><polygon fill="#fdfdfd" points="2133,311 2194,303 2240,303 2225,330 2171,338"/><polygon fill="#787878" points="1766,330 1842,342 1919,368 1911,395 1842,384 1766,376"/><polygon fill="#585858" points="1923,353 1995,353 2018,391 1949,411"/><polygon fill="#e5e5e5" points="2087,288 2118,296 2148,303 2225,288 2263,296 2248,334 2187,347 2125,338 2091,315"/><polygon fill="#f8f8f8" points="2118,303 2156,309 2225,296 2252,303 2236,332 2183,342 2137,330"/><polygon fill="#d3d3d3" points="2225,284 2248,246 2263,215 2298,166 2313,171 2286,223 2271,261 2256,300"/><polygon fill="#c0c0c0" points="2068,284 2080,238 2099,237 2110,261 2129,300 2095,315"/></g></g>
<use href="#gaps" class="bl" style="fill:#e1e1e1;stroke-width:1.9"/>
<use href="#gibgap" class="bl" style="fill:#e1e1e1;stroke-width:1.9"/>
<use href="#b11" class="bl"/>
<use href="#lines" class="bl"/>
<use href="#outerline" class="bl"/>
<use href="#sea" fill="#eaf6fe" stroke="#333" stroke-width="1.8" stroke-linejoin="round"/>
<use href="#landover" fill="#e1e1e1" stroke="#333" stroke-width="1.4"/>
<use href="#africa" fill="#e1e1e1" stroke="#333" stroke-width="1.4"/>
</g>
<text x="76.8" y="592.7" class="city">Ca</text>
<text x="761.8" y="1033.6" class="city">Gb</text>
<text x="1331.8" y="210.8" class="city">At</text>
<text x="1474.9" y="502.4" class="city">Ma</text>
<text x="2093.2" y="513.9" class="city">Mt</text>
<text x="2058.8" y="105.2" class="city">Gr</text>
<text x="90.2" y="97.6" class="pl">C)</text>
<text x="105.3" y="1065.7" style="font-family:'Liberation Serif',serif;font-size:25.5px;text-anchor:middle;fill:#111">N</text>
<path d="M105.2,1079.4 L129.8,1152.1 L105.2,1135.2 L81.3,1152.1Z" fill="#000"/>
<text x="195.2" y="1170.2" style="font-size:23.4px;fill:#111">Kilometers</text>
<rect x="85.1" y="1175.7" width="328.8" height="12.7" fill="#000"/>
<rect x="127.6" y="1177.0" width="39.2" height="10.1" fill="#e1e1e1"/>
<rect x="209.5" y="1177.0" width="39.2" height="10.1" fill="#e1e1e1"/>
<text x="86.1" y="1216.5" style="font-size:23px;fill:#111;text-anchor:middle">0</text>
<text x="168" y="1216.5" style="font-size:23px;fill:#111;text-anchor:middle">10</text>
<text x="248.7" y="1216.5" style="font-size:23px;fill:#111;text-anchor:middle">20</text>
<text x="412" y="1216.5" style="font-size:23px;fill:#111;text-anchor:middle">40</text>
</g>

<g fill="none" stroke="#1c1c1c" stroke-width="2.6"><rect x="55.0" y="52.5" width="2365.5" height="3676.0"/><line x1="55.0" y1="1276.5" x2="2420.5" y2="1276.5"/><line x1="55.0" y1="2500.5" x2="2420.5" y2="2500.5"/></g>
<rect x="1647" y="667.4" width="757.5" height="670.8" fill="#fff" stroke="#1c1c1c" stroke-width="2.4"/>
<text x="1662.4" y="703.0" class="legt" textLength="284.5" lengthAdjust="spacingAndGlyphs">Elevation in m</text>
<rect x="1661" y="751.0" width="87.4" height="43.2" fill="rgb(56,168,0)" stroke="#6e6e6e" stroke-width="2.2"/>
<text x="1760.8" y="785.8" class="leg">0 - 0</text>
<rect x="1661" y="810.8" width="87.4" height="43.2" fill="rgb(78,178,0)" stroke="#6e6e6e" stroke-width="2.2"/>
<text x="1760.8" y="845.6" class="leg">1 - 200</text>
<rect x="1661" y="870.6" width="87.4" height="43.2" fill="rgb(100,187,0)" stroke="#6e6e6e" stroke-width="2.2"/>
<text x="1760.8" y="905.4" class="leg">201 - 400</text>
<rect x="1661" y="930.4" width="87.4" height="43.2" fill="rgb(122,197,0)" stroke="#6e6e6e" stroke-width="2.2"/>
<text x="1760.8" y="965.2" class="leg">401 - 600</text>
<rect x="1661" y="990.2" width="87.4" height="43.2" fill="rgb(144,207,0)" stroke="#6e6e6e" stroke-width="2.2"/>
<text x="1760.8" y="1025.0" class="leg">601 - 800</text>
<rect x="1661" y="1050.0" width="87.4" height="43.2" fill="rgb(167,216,0)" stroke="#6e6e6e" stroke-width="2.2"/>
<text x="1760.8" y="1084.8" class="leg">801 - 1.000</text>
<rect x="1661" y="1109.8" width="87.4" height="43.2" fill="rgb(189,226,0)" stroke="#6e6e6e" stroke-width="2.2"/>
<text x="1760.8" y="1144.6" class="leg">1.001 - 1.200</text>
<rect x="1661" y="1169.6" width="87.4" height="43.2" fill="rgb(211,236,0)" stroke="#6e6e6e" stroke-width="2.2"/>
<text x="1760.8" y="1204.4" class="leg">1.201 - 1.400</text>
<rect x="1661" y="1229.4" width="87.4" height="43.2" fill="rgb(233,245,0)" stroke="#6e6e6e" stroke-width="2.2"/>
<text x="1760.8" y="1264.2" class="leg">1.401 - 1.600</text>
<rect x="1661" y="1289.2" width="87.4" height="43.2" fill="rgb(255,255,0)" stroke="#6e6e6e" stroke-width="2.2"/>
<text x="1760.8" y="1324.0" class="leg">1.601 - 1.800</text>
<rect x="2053.9" y="810.8" width="87.4" height="43.2" fill="rgb(255,227,0)" stroke="#6e6e6e" stroke-width="2.2"/>
<text x="2154.6" y="845.6" class="leg">1.801 - 2.000</text>
<rect x="2053.9" y="870.6" width="87.4" height="43.2" fill="rgb(255,198,0)" stroke="#6e6e6e" stroke-width="2.2"/>
<text x="2154.6" y="905.4" class="leg">2.001 - 2.200</text>
<rect x="2053.9" y="930.4" width="87.4" height="43.2" fill="rgb(255,170,0)" stroke="#6e6e6e" stroke-width="2.2"/>
<text x="2154.6" y="965.2" class="leg">2.201 - 2.400</text>
<rect x="2053.9" y="990.2" width="87.4" height="43.2" fill="rgb(255,142,0)" stroke="#6e6e6e" stroke-width="2.2"/>
<text x="2154.6" y="1025.0" class="leg">2.401 - 2.600</text>
<rect x="2053.9" y="1050.0" width="87.4" height="43.2" fill="rgb(255,113,0)" stroke="#6e6e6e" stroke-width="2.2"/>
<text x="2154.6" y="1084.8" class="leg">2.601 - 2.800</text>
<rect x="2053.9" y="1109.8" width="87.4" height="43.2" fill="rgb(255,85,0)" stroke="#6e6e6e" stroke-width="2.2"/>
<text x="2154.6" y="1144.6" class="leg">2.801 - 3.000</text>
<rect x="2053.9" y="1169.6" width="87.4" height="43.2" fill="rgb(255,57,0)" stroke="#6e6e6e" stroke-width="2.2"/>
<text x="2154.6" y="1204.4" class="leg">3.001 - 3.200</text>
<rect x="2053.9" y="1229.4" width="87.4" height="43.2" fill="rgb(255,28,0)" stroke="#6e6e6e" stroke-width="2.2"/>
<text x="2154.6" y="1264.2" class="leg">3.201 - 3.400</text>
<rect x="2053.9" y="1289.2" width="87.4" height="43.2" fill="rgb(255,0,0)" stroke="#6e6e6e" stroke-width="2.2"/>
<text x="2154.6" y="1324.0" class="leg">3.401 - 3.600</text>
<rect x="1647" y="1891.4" width="757.5" height="670.8" fill="#fff" stroke="#1c1c1c" stroke-width="2.4"/>
<text x="1662.4" y="1927.0" class="legt" textLength="284.5" lengthAdjust="spacingAndGlyphs">Elevation in m</text>
<rect x="1661" y="1975.0" width="87.4" height="43.2" fill="rgb(56,168,0)" stroke="#6e6e6e" stroke-width="2.2"/>
<text x="1760.8" y="2009.8" class="leg">0 - 0</text>
<rect x="1661" y="2034.8" width="87.4" height="43.2" fill="rgb(78,178,0)" stroke="#6e6e6e" stroke-width="2.2"/>
<text x="1760.8" y="2069.6" class="leg">1 - 200</text>
<rect x="1661" y="2094.6" width="87.4" height="43.2" fill="rgb(100,187,0)" stroke="#6e6e6e" stroke-width="2.2"/>
<text x="1760.8" y="2129.4" class="leg">201 - 400</text>
<rect x="1661" y="2154.4" width="87.4" height="43.2" fill="rgb(122,197,0)" stroke="#6e6e6e" stroke-width="2.2"/>
<text x="1760.8" y="2189.2" class="leg">401 - 600</text>
<rect x="1661" y="2214.2" width="87.4" height="43.2" fill="rgb(144,207,0)" stroke="#6e6e6e" stroke-width="2.2"/>
<text x="1760.8" y="2249.0" class="leg">601 - 800</text>
<rect x="1661" y="2274.0" width="87.4" height="43.2" fill="rgb(167,216,0)" stroke="#6e6e6e" stroke-width="2.2"/>
<text x="1760.8" y="2308.8" class="leg">801 - 1.000</text>
<rect x="1661" y="2333.8" width="87.4" height="43.2" fill="rgb(189,226,0)" stroke="#6e6e6e" stroke-width="2.2"/>
<text x="1760.8" y="2368.6" class="leg">1.001 - 1.200</text>
<rect x="1661" y="2393.6" width="87.4" height="43.2" fill="rgb(211,236,0)" stroke="#6e6e6e" stroke-width="2.2"/>
<text x="1760.8" y="2428.4" class="leg">1.201 - 1.400</text>
<rect x="1661" y="2453.4" width="87.4" height="43.2" fill="rgb(233,245,0)" stroke="#6e6e6e" stroke-width="2.2"/>
<text x="1760.8" y="2488.2" class="leg">1.401 - 1.600</text>
<rect x="1661" y="2513.2" width="87.4" height="43.2" fill="rgb(255,255,0)" stroke="#6e6e6e" stroke-width="2.2"/>
<text x="1760.8" y="2548.0" class="leg">1.601 - 1.800</text>
<rect x="2053.9" y="2034.8" width="87.4" height="43.2" fill="rgb(255,227,0)" stroke="#6e6e6e" stroke-width="2.2"/>
<text x="2154.6" y="2069.6" class="leg">1.801 - 2.000</text>
<rect x="2053.9" y="2094.6" width="87.4" height="43.2" fill="rgb(255,198,0)" stroke="#6e6e6e" stroke-width="2.2"/>
<text x="2154.6" y="2129.4" class="leg">2.001 - 2.200</text>
<rect x="2053.9" y="2154.4" width="87.4" height="43.2" fill="rgb(255,170,0)" stroke="#6e6e6e" stroke-width="2.2"/>
<text x="2154.6" y="2189.2" class="leg">2.201 - 2.400</text>
<rect x="2053.9" y="2214.2" width="87.4" height="43.2" fill="rgb(255,142,0)" stroke="#6e6e6e" stroke-width="2.2"/>
<text x="2154.6" y="2249.0" class="leg">2.401 - 2.600</text>
<rect x="2053.9" y="2274.0" width="87.4" height="43.2" fill="rgb(255,113,0)" stroke="#6e6e6e" stroke-width="2.2"/>
<text x="2154.6" y="2308.8" class="leg">2.601 - 2.800</text>
<rect x="2053.9" y="2333.8" width="87.4" height="43.2" fill="rgb(255,85,0)" stroke="#6e6e6e" stroke-width="2.2"/>
<text x="2154.6" y="2368.6" class="leg">2.801 - 3.000</text>
<rect x="2053.9" y="2393.6" width="87.4" height="43.2" fill="rgb(255,57,0)" stroke="#6e6e6e" stroke-width="2.2"/>
<text x="2154.6" y="2428.4" class="leg">3.001 - 3.200</text>
<rect x="2053.9" y="2453.4" width="87.4" height="43.2" fill="rgb(255,28,0)" stroke="#6e6e6e" stroke-width="2.2"/>
<text x="2154.6" y="2488.2" class="leg">3.201 - 3.400</text>
<rect x="2053.9" y="2513.2" width="87.4" height="43.2" fill="rgb(255,0,0)" stroke="#6e6e6e" stroke-width="2.2"/>
<text x="2154.6" y="2548.0" class="leg">3.401 - 3.600</text>
<rect x="1646.5" y="3104.9" width="759" height="573.6" fill="#fff" stroke="#1c1c1c" stroke-width="2.4"/>
<text x="1767" y="3148.2" class="legt" style="font-size:44px">G<tspan style="font-size:24px" dy="15.4">R</tspan><tspan dy="-15.4"> in m</tspan></text>
<rect x="1667.4" y="3183.5" width="90.8" height="44.8" fill="rgb(56,168,0)" stroke="#6e6e6e" stroke-width="2.2"/>
<text x="1772.5" y="3220.8" class="leg" style="font-size:42px;word-spacing:-3px">-0,37 - 0</text>
<rect x="1667.4" y="3246.2" width="90.8" height="44.8" fill="rgb(83,180,0)" stroke="#6e6e6e" stroke-width="2.2"/>
<text x="1772.5" y="3283.5" class="leg" style="font-size:42px;word-spacing:-3px">0 - 100</text>
<rect x="1667.4" y="3308.9" width="90.8" height="44.8" fill="rgb(109,191,0)" stroke="#6e6e6e" stroke-width="2.2"/>
<text x="1772.5" y="3346.2" class="leg" style="font-size:42px;word-spacing:-3px">100 - 200</text>
<rect x="1667.4" y="3371.6" width="90.8" height="44.8" fill="rgb(136,203,0)" stroke="#6e6e6e" stroke-width="2.2"/>
<text x="1772.5" y="3408.9" class="leg" style="font-size:42px;word-spacing:-3px">200 - 300</text>
<rect x="1667.4" y="3434.3" width="90.8" height="44.8" fill="rgb(162,214,0)" stroke="#6e6e6e" stroke-width="2.2"/>
<text x="1772.5" y="3471.6" class="leg" style="font-size:42px;word-spacing:-3px">300 - 400</text>
<rect x="1667.4" y="3497.0" width="90.8" height="44.8" fill="rgb(189,226,0)" stroke="#6e6e6e" stroke-width="2.2"/>
<text x="1772.5" y="3534.3" class="leg" style="font-size:42px;word-spacing:-3px">400 - 500</text>
<rect x="1667.4" y="3559.7" width="90.8" height="44.8" fill="rgb(215,238,0)" stroke="#6e6e6e" stroke-width="2.2"/>
<text x="1772.5" y="3597.0" class="leg" style="font-size:42px;word-spacing:-3px">500 - 600</text>
<rect x="1667.4" y="3622.4" width="90.8" height="44.8" fill="rgb(242,249,0)" stroke="#6e6e6e" stroke-width="2.2"/>
<text x="1772.5" y="3659.7" class="leg" style="font-size:42px;word-spacing:-3px">600 - 700</text>
<rect x="2037" y="3178.5" width="90.8" height="44.8" fill="rgb(255,238,0)" stroke="#6e6e6e" stroke-width="2.2"/>
<text x="2143" y="3215.8" class="leg" style="font-size:42px;word-spacing:-3px">700 - 800</text>
<rect x="2037" y="3241.2" width="90.8" height="44.8" fill="rgb(255,204,0)" stroke="#6e6e6e" stroke-width="2.2"/>
<text x="2143" y="3278.5" class="leg" style="font-size:42px;word-spacing:-3px">800 - 900</text>
<rect x="2037" y="3303.9" width="90.8" height="44.8" fill="rgb(255,170,0)" stroke="#6e6e6e" stroke-width="2.2"/>
<text x="2143" y="3341.2" class="leg" style="font-size:42px;word-spacing:-3px">900 - 1.000</text>
<rect x="2037" y="3366.6" width="90.8" height="44.8" fill="rgb(255,136,0)" stroke="#6e6e6e" stroke-width="2.2"/>
<text x="2143" y="3403.9" class="leg" style="font-size:42px;word-spacing:-3px">1.000 - 1.100</text>
<rect x="2037" y="3429.3" width="90.8" height="44.8" fill="rgb(255,102,0)" stroke="#6e6e6e" stroke-width="2.2"/>
<text x="2143" y="3466.6" class="leg" style="font-size:42px;word-spacing:-3px">1.100 - 1.200</text>
<rect x="2037" y="3492.0" width="90.8" height="44.8" fill="rgb(255,68,0)" stroke="#6e6e6e" stroke-width="2.2"/>
<text x="2143" y="3529.3" class="leg" style="font-size:42px;word-spacing:-3px">1.200 - 1.300</text>
<rect x="2037" y="3554.7" width="90.8" height="44.8" fill="rgb(255,34,0)" stroke="#6e6e6e" stroke-width="2.2"/>
<text x="2143" y="3592.0" class="leg" style="font-size:42px;word-spacing:-3px">1.300 - 1.400</text>
<rect x="2037" y="3617.4" width="90.8" height="44.8" fill="rgb(255,0,0)" stroke="#6e6e6e" stroke-width="2.2"/>
<text x="2143" y="3654.7" class="leg" style="font-size:42px;word-spacing:-3px">1.400 - 1.500</text>
</svg></body></html>
